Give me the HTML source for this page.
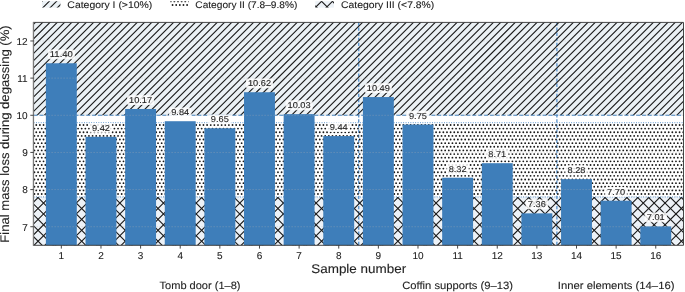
<!DOCTYPE html><html><head><meta charset="utf-8"><style>html,body{margin:0;padding:0;background:#fff;overflow:hidden}svg{display:block;will-change:transform;text-rendering:geometricPrecision}</style></head><body><svg width="685" height="292" viewBox="0 0 685 292"><defs><clipPath id="cr1"><rect x="33.6" y="22.4" width="649.9" height="92.88"/></clipPath><clipPath id="cr2"><rect x="33.6" y="122.7" width="649.9" height="74.3"/></clipPath><clipPath id="cr3"><rect x="33.6" y="197.01" width="649.9" height="48.29"/></clipPath><clipPath id="cl1"><rect x="42" y="1.2" width="18.4" height="6.4"/></clipPath><clipPath id="cl2"><rect x="170.3" y="1.2" width="18.4" height="6.4"/></clipPath><clipPath id="cl3"><rect x="315.3" y="1.2" width="18.7" height="6.4"/></clipPath></defs><rect x="33.6" y="22.4" width="649.9" height="92.88" fill="#ebf1f5"/><rect x="33.6" y="122.7" width="649.9" height="74.3" fill="#ffffff"/><rect x="33.6" y="197.01" width="649.9" height="48.29" fill="#edf2f7"/><line x1="358.75" x2="358.75" y1="22.4" y2="245.3" stroke="#3f82c4" stroke-opacity="0.95" stroke-width="1.2" stroke-dasharray="3.3 1.8"/><line x1="556.89" x2="556.89" y1="22.4" y2="245.3" stroke="#3f82c4" stroke-opacity="0.95" stroke-width="1.2" stroke-dasharray="3.3 1.8"/><g stroke="#1a1a1a" stroke-width="1.1" fill="none"><path clip-path="url(#cr1)" d="M-73.98 117.28L22.89 20.4M-66.71 117.28L30.16 20.4M-59.44 117.28L37.43 20.4M-52.18 117.28L44.7 20.4M-44.91 117.28L51.97 20.4M-37.64 117.28L59.24 20.4M-30.37 117.28L66.51 20.4M-23.1 117.28L73.78 20.4M-15.83 117.28L81.05 20.4M-8.56 117.28L88.32 20.4M-1.29 117.28L95.59 20.4M5.98 117.28L102.86 20.4M13.25 117.28L110.12 20.4M20.52 117.28L117.39 20.4M27.79 117.28L124.66 20.4M35.06 117.28L131.93 20.4M42.33 117.28L139.2 20.4M49.6 117.28L146.47 20.4M56.87 117.28L153.74 20.4M64.14 117.28L161.01 20.4M71.4 117.28L168.28 20.4M78.67 117.28L175.55 20.4M85.94 117.28L182.82 20.4M93.21 117.28L190.09 20.4M100.48 117.28L197.36 20.4M107.75 117.28L204.63 20.4M115.02 117.28L211.9 20.4M122.29 117.28L219.17 20.4M129.56 117.28L226.44 20.4M136.83 117.28L233.7 20.4M144.1 117.28L240.97 20.4M151.37 117.28L248.24 20.4M158.64 117.28L255.51 20.4M165.91 117.28L262.78 20.4M173.18 117.28L270.05 20.4M180.45 117.28L277.32 20.4M187.72 117.28L284.59 20.4M194.98 117.28L291.86 20.4M202.25 117.28L299.13 20.4M209.52 117.28L306.4 20.4M216.79 117.28L313.67 20.4M224.06 117.28L320.94 20.4M231.33 117.28L328.21 20.4M238.6 117.28L335.48 20.4M245.87 117.28L342.75 20.4M253.14 117.28L350.01 20.4M260.41 117.28L357.28 20.4M267.68 117.28L364.55 20.4M274.95 117.28L371.82 20.4M282.22 117.28L379.09 20.4M289.49 117.28L386.36 20.4M296.76 117.28L393.63 20.4M304.03 117.28L400.9 20.4M311.3 117.28L408.17 20.4M318.56 117.28L415.44 20.4M325.83 117.28L422.71 20.4M333.1 117.28L429.98 20.4M340.37 117.28L437.25 20.4M347.64 117.28L444.52 20.4M354.91 117.28L451.79 20.4M362.18 117.28L459.06 20.4M369.45 117.28L466.33 20.4M376.72 117.28L473.59 20.4M383.99 117.28L480.86 20.4M391.26 117.28L488.13 20.4M398.53 117.28L495.4 20.4M405.8 117.28L502.67 20.4M413.07 117.28L509.94 20.4M420.34 117.28L517.21 20.4M427.61 117.28L524.48 20.4M434.87 117.28L531.75 20.4M442.14 117.28L539.02 20.4M449.41 117.28L546.29 20.4M456.68 117.28L553.56 20.4M463.95 117.28L560.83 20.4M471.22 117.28L568.1 20.4M478.49 117.28L575.37 20.4M485.76 117.28L582.64 20.4M493.03 117.28L589.91 20.4M500.3 117.28L597.17 20.4M507.57 117.28L604.44 20.4M514.84 117.28L611.71 20.4M522.11 117.28L618.98 20.4M529.38 117.28L626.25 20.4M536.65 117.28L633.52 20.4M543.92 117.28L640.79 20.4M551.19 117.28L648.06 20.4M558.45 117.28L655.33 20.4M565.72 117.28L662.6 20.4M572.99 117.28L669.87 20.4M580.26 117.28L677.14 20.4M587.53 117.28L684.41 20.4M594.8 117.28L691.68 20.4M602.07 117.28L698.95 20.4M609.34 117.28L706.22 20.4M616.61 117.28L713.48 20.4M623.88 117.28L720.75 20.4M631.15 117.28L728.02 20.4M638.42 117.28L735.29 20.4M645.69 117.28L742.56 20.4M652.96 117.28L749.83 20.4M660.23 117.28L757.1 20.4M667.5 117.28L764.37 20.4M674.77 117.28L771.64 20.4M682.03 117.28L778.91 20.4"/><path clip-path="url(#cr3)" d="M-33.46 247.3L18.84 195.01M-22.56 247.3L29.74 195.01M-11.65 247.3L40.64 195.01M-0.75 247.3L51.55 195.01M10.16 247.3L62.45 195.01M21.06 247.3L73.35 195.01M31.96 247.3L84.26 195.01M42.87 247.3L95.16 195.01M53.77 247.3L106.07 195.01M64.68 247.3L116.97 195.01M75.58 247.3L127.87 195.01M86.48 247.3L138.78 195.01M97.39 247.3L149.68 195.01M108.29 247.3L160.59 195.01M119.2 247.3L171.49 195.01M130.1 247.3L182.4 195.01M141 247.3L193.3 195.01M151.91 247.3L204.2 195.01M162.81 247.3L215.11 195.01M173.72 247.3L226.01 195.01M184.62 247.3L236.92 195.01M195.52 247.3L247.82 195.01M206.43 247.3L258.72 195.01M217.33 247.3L269.63 195.01M228.24 247.3L280.53 195.01M239.14 247.3L291.44 195.01M250.04 247.3L302.34 195.01M260.95 247.3L313.24 195.01M271.85 247.3L324.15 195.01M282.76 247.3L335.05 195.01M293.66 247.3L345.96 195.01M304.56 247.3L356.86 195.01M315.47 247.3L367.76 195.01M326.37 247.3L378.67 195.01M337.28 247.3L389.57 195.01M348.18 247.3L400.48 195.01M359.08 247.3L411.38 195.01M369.99 247.3L422.28 195.01M380.89 247.3L433.19 195.01M391.8 247.3L444.09 195.01M402.7 247.3L455 195.01M413.6 247.3L465.9 195.01M424.51 247.3L476.8 195.01M435.41 247.3L487.71 195.01M446.32 247.3L498.61 195.01M457.22 247.3L509.51 195.01M468.12 247.3L520.42 195.01M479.03 247.3L531.32 195.01M489.93 247.3L542.23 195.01M500.84 247.3L553.13 195.01M511.74 247.3L564.04 195.01M522.64 247.3L574.94 195.01M533.55 247.3L585.84 195.01M544.45 247.3L596.75 195.01M555.36 247.3L607.65 195.01M566.26 247.3L618.56 195.01M577.16 247.3L629.46 195.01M588.07 247.3L640.36 195.01M598.97 247.3L651.27 195.01M609.88 247.3L662.17 195.01M620.78 247.3L673.08 195.01M631.68 247.3L683.98 195.01M642.59 247.3L694.88 195.01M653.49 247.3L705.79 195.01M664.4 247.3L716.69 195.01M675.3 247.3L727.6 195.01M686.2 247.3L738.5 195.01"/><path clip-path="url(#cr3)" d="M-29.95 195.01L22.35 247.3M-19.04 195.01L33.25 247.3M-8.14 195.01L44.16 247.3M2.77 195.01L55.06 247.3M13.67 195.01L65.96 247.3M24.57 195.01L76.87 247.3M35.48 195.01L87.77 247.3M46.38 195.01L98.68 247.3M57.28 195.01L109.58 247.3M68.19 195.01L120.48 247.3M79.09 195.01L131.39 247.3M90 195.01L142.29 247.3M100.9 195.01L153.2 247.3M111.8 195.01L164.1 247.3M122.71 195.01L175 247.3M133.61 195.01L185.91 247.3M144.52 195.01L196.81 247.3M155.42 195.01L207.72 247.3M166.33 195.01L218.62 247.3M177.23 195.01L229.52 247.3M188.13 195.01L240.43 247.3M199.04 195.01L251.33 247.3M209.94 195.01L262.24 247.3M220.85 195.01L273.14 247.3M231.75 195.01L284.04 247.3M242.65 195.01L294.95 247.3M253.56 195.01L305.85 247.3M264.46 195.01L316.76 247.3M275.37 195.01L327.66 247.3M286.27 195.01L338.56 247.3M297.17 195.01L349.47 247.3M308.08 195.01L360.37 247.3M318.98 195.01L371.28 247.3M329.88 195.01L382.18 247.3M340.79 195.01L393.08 247.3M351.69 195.01L403.99 247.3M362.6 195.01L414.89 247.3M373.5 195.01L425.8 247.3M384.4 195.01L436.7 247.3M395.31 195.01L447.6 247.3M406.21 195.01L458.51 247.3M417.12 195.01L469.41 247.3M428.02 195.01L480.32 247.3M438.93 195.01L491.22 247.3M449.83 195.01L502.12 247.3M460.73 195.01L513.03 247.3M471.64 195.01L523.93 247.3M482.54 195.01L534.84 247.3M493.45 195.01L545.74 247.3M504.35 195.01L556.64 247.3M515.25 195.01L567.55 247.3M526.16 195.01L578.45 247.3M537.06 195.01L589.36 247.3M547.97 195.01L600.26 247.3M558.87 195.01L611.16 247.3M569.77 195.01L622.07 247.3M580.68 195.01L632.97 247.3M591.58 195.01L643.88 247.3M602.49 195.01L654.78 247.3M613.39 195.01L665.68 247.3M624.29 195.01L676.59 247.3M635.2 195.01L687.49 247.3M646.1 195.01L698.4 247.3M657 195.01L709.3 247.3M667.91 195.01L720.2 247.3M678.81 195.01L731.11 247.3M689.72 195.01L742.01 247.3"/></g><path clip-path="url(#cr2)" stroke="#1a1a1a" stroke-width="1.84" stroke-linecap="round" d="M32.63 124.98h0M36.26 124.98h0M39.9 124.98h0M43.53 124.98h0M47.16 124.98h0M50.8 124.98h0M54.43 124.98h0M58.07 124.98h0M61.7 124.98h0M65.34 124.98h0M68.97 124.98h0M72.61 124.98h0M76.24 124.98h0M79.88 124.98h0M83.51 124.98h0M87.15 124.98h0M90.78 124.98h0M94.42 124.98h0M98.05 124.98h0M101.68 124.98h0M105.32 124.98h0M108.95 124.98h0M112.59 124.98h0M116.22 124.98h0M119.86 124.98h0M123.49 124.98h0M127.13 124.98h0M130.76 124.98h0M134.4 124.98h0M138.03 124.98h0M141.67 124.98h0M145.3 124.98h0M148.94 124.98h0M152.57 124.98h0M156.21 124.98h0M159.84 124.98h0M163.47 124.98h0M167.11 124.98h0M170.74 124.98h0M174.38 124.98h0M178.01 124.98h0M181.65 124.98h0M185.28 124.98h0M188.92 124.98h0M192.55 124.98h0M196.19 124.98h0M199.82 124.98h0M203.46 124.98h0M207.09 124.98h0M210.73 124.98h0M214.36 124.98h0M218 124.98h0M221.63 124.98h0M225.26 124.98h0M228.9 124.98h0M232.53 124.98h0M236.17 124.98h0M239.8 124.98h0M243.44 124.98h0M247.07 124.98h0M250.71 124.98h0M254.34 124.98h0M257.98 124.98h0M261.61 124.98h0M265.25 124.98h0M268.88 124.98h0M272.52 124.98h0M276.15 124.98h0M279.79 124.98h0M283.42 124.98h0M287.05 124.98h0M290.69 124.98h0M294.32 124.98h0M297.96 124.98h0M301.59 124.98h0M305.23 124.98h0M308.86 124.98h0M312.5 124.98h0M316.13 124.98h0M319.77 124.98h0M323.4 124.98h0M327.04 124.98h0M330.67 124.98h0M334.31 124.98h0M337.94 124.98h0M341.58 124.98h0M345.21 124.98h0M348.84 124.98h0M352.48 124.98h0M356.11 124.98h0M359.75 124.98h0M363.38 124.98h0M367.02 124.98h0M370.65 124.98h0M374.29 124.98h0M377.92 124.98h0M381.56 124.98h0M385.19 124.98h0M388.83 124.98h0M392.46 124.98h0M396.1 124.98h0M399.73 124.98h0M403.37 124.98h0M407 124.98h0M410.63 124.98h0M414.27 124.98h0M417.9 124.98h0M421.54 124.98h0M425.17 124.98h0M428.81 124.98h0M432.44 124.98h0M436.08 124.98h0M439.71 124.98h0M443.35 124.98h0M446.98 124.98h0M450.62 124.98h0M454.25 124.98h0M457.89 124.98h0M461.52 124.98h0M465.15 124.98h0M468.79 124.98h0M472.42 124.98h0M476.06 124.98h0M479.69 124.98h0M483.33 124.98h0M486.96 124.98h0M490.6 124.98h0M494.23 124.98h0M497.87 124.98h0M501.5 124.98h0M505.14 124.98h0M508.77 124.98h0M512.41 124.98h0M516.04 124.98h0M519.68 124.98h0M523.31 124.98h0M526.94 124.98h0M530.58 124.98h0M534.21 124.98h0M537.85 124.98h0M541.48 124.98h0M545.12 124.98h0M548.75 124.98h0M552.39 124.98h0M556.02 124.98h0M559.66 124.98h0M563.29 124.98h0M566.93 124.98h0M570.56 124.98h0M574.2 124.98h0M577.83 124.98h0M581.47 124.98h0M585.1 124.98h0M588.73 124.98h0M592.37 124.98h0M596 124.98h0M599.64 124.98h0M603.27 124.98h0M606.91 124.98h0M610.54 124.98h0M614.18 124.98h0M617.81 124.98h0M621.45 124.98h0M625.08 124.98h0M628.72 124.98h0M632.35 124.98h0M635.99 124.98h0M639.62 124.98h0M643.26 124.98h0M646.89 124.98h0M650.52 124.98h0M654.16 124.98h0M657.79 124.98h0M661.43 124.98h0M665.06 124.98h0M668.7 124.98h0M672.33 124.98h0M675.97 124.98h0M679.6 124.98h0M683.24 124.98h0M34.44 128.61h0M38.08 128.61h0M41.71 128.61h0M45.35 128.61h0M48.98 128.61h0M52.62 128.61h0M56.25 128.61h0M59.89 128.61h0M63.52 128.61h0M67.16 128.61h0M70.79 128.61h0M74.42 128.61h0M78.06 128.61h0M81.69 128.61h0M85.33 128.61h0M88.96 128.61h0M92.6 128.61h0M96.23 128.61h0M99.87 128.61h0M103.5 128.61h0M107.14 128.61h0M110.77 128.61h0M114.41 128.61h0M118.04 128.61h0M121.68 128.61h0M125.31 128.61h0M128.95 128.61h0M132.58 128.61h0M136.21 128.61h0M139.85 128.61h0M143.48 128.61h0M147.12 128.61h0M150.75 128.61h0M154.39 128.61h0M158.02 128.61h0M161.66 128.61h0M165.29 128.61h0M168.93 128.61h0M172.56 128.61h0M176.2 128.61h0M179.83 128.61h0M183.47 128.61h0M187.1 128.61h0M190.74 128.61h0M194.37 128.61h0M198 128.61h0M201.64 128.61h0M205.27 128.61h0M208.91 128.61h0M212.54 128.61h0M216.18 128.61h0M219.81 128.61h0M223.45 128.61h0M227.08 128.61h0M230.72 128.61h0M234.35 128.61h0M237.99 128.61h0M241.62 128.61h0M245.26 128.61h0M248.89 128.61h0M252.53 128.61h0M256.16 128.61h0M259.79 128.61h0M263.43 128.61h0M267.06 128.61h0M270.7 128.61h0M274.33 128.61h0M277.97 128.61h0M281.6 128.61h0M285.24 128.61h0M288.87 128.61h0M292.51 128.61h0M296.14 128.61h0M299.78 128.61h0M303.41 128.61h0M307.05 128.61h0M310.68 128.61h0M314.32 128.61h0M317.95 128.61h0M321.58 128.61h0M325.22 128.61h0M328.85 128.61h0M332.49 128.61h0M336.12 128.61h0M339.76 128.61h0M343.39 128.61h0M347.03 128.61h0M350.66 128.61h0M354.3 128.61h0M357.93 128.61h0M361.57 128.61h0M365.2 128.61h0M368.84 128.61h0M372.47 128.61h0M376.11 128.61h0M379.74 128.61h0M383.37 128.61h0M387.01 128.61h0M390.64 128.61h0M394.28 128.61h0M397.91 128.61h0M401.55 128.61h0M405.18 128.61h0M408.82 128.61h0M412.45 128.61h0M416.09 128.61h0M419.72 128.61h0M423.36 128.61h0M426.99 128.61h0M430.63 128.61h0M434.26 128.61h0M437.89 128.61h0M441.53 128.61h0M445.16 128.61h0M448.8 128.61h0M452.43 128.61h0M456.07 128.61h0M459.7 128.61h0M463.34 128.61h0M466.97 128.61h0M470.61 128.61h0M474.24 128.61h0M477.88 128.61h0M481.51 128.61h0M485.15 128.61h0M488.78 128.61h0M492.42 128.61h0M496.05 128.61h0M499.68 128.61h0M503.32 128.61h0M506.95 128.61h0M510.59 128.61h0M514.22 128.61h0M517.86 128.61h0M521.49 128.61h0M525.13 128.61h0M528.76 128.61h0M532.4 128.61h0M536.03 128.61h0M539.67 128.61h0M543.3 128.61h0M546.94 128.61h0M550.57 128.61h0M554.21 128.61h0M557.84 128.61h0M561.47 128.61h0M565.11 128.61h0M568.74 128.61h0M572.38 128.61h0M576.01 128.61h0M579.65 128.61h0M583.28 128.61h0M586.92 128.61h0M590.55 128.61h0M594.19 128.61h0M597.82 128.61h0M601.46 128.61h0M605.09 128.61h0M608.73 128.61h0M612.36 128.61h0M616 128.61h0M619.63 128.61h0M623.26 128.61h0M626.9 128.61h0M630.53 128.61h0M634.17 128.61h0M637.8 128.61h0M641.44 128.61h0M645.07 128.61h0M648.71 128.61h0M652.34 128.61h0M655.98 128.61h0M659.61 128.61h0M663.25 128.61h0M666.88 128.61h0M670.52 128.61h0M674.15 128.61h0M677.79 128.61h0M681.42 128.61h0M32.63 132.25h0M36.26 132.25h0M39.9 132.25h0M43.53 132.25h0M47.16 132.25h0M50.8 132.25h0M54.43 132.25h0M58.07 132.25h0M61.7 132.25h0M65.34 132.25h0M68.97 132.25h0M72.61 132.25h0M76.24 132.25h0M79.88 132.25h0M83.51 132.25h0M87.15 132.25h0M90.78 132.25h0M94.42 132.25h0M98.05 132.25h0M101.68 132.25h0M105.32 132.25h0M108.95 132.25h0M112.59 132.25h0M116.22 132.25h0M119.86 132.25h0M123.49 132.25h0M127.13 132.25h0M130.76 132.25h0M134.4 132.25h0M138.03 132.25h0M141.67 132.25h0M145.3 132.25h0M148.94 132.25h0M152.57 132.25h0M156.21 132.25h0M159.84 132.25h0M163.47 132.25h0M167.11 132.25h0M170.74 132.25h0M174.38 132.25h0M178.01 132.25h0M181.65 132.25h0M185.28 132.25h0M188.92 132.25h0M192.55 132.25h0M196.19 132.25h0M199.82 132.25h0M203.46 132.25h0M207.09 132.25h0M210.73 132.25h0M214.36 132.25h0M218 132.25h0M221.63 132.25h0M225.26 132.25h0M228.9 132.25h0M232.53 132.25h0M236.17 132.25h0M239.8 132.25h0M243.44 132.25h0M247.07 132.25h0M250.71 132.25h0M254.34 132.25h0M257.98 132.25h0M261.61 132.25h0M265.25 132.25h0M268.88 132.25h0M272.52 132.25h0M276.15 132.25h0M279.79 132.25h0M283.42 132.25h0M287.05 132.25h0M290.69 132.25h0M294.32 132.25h0M297.96 132.25h0M301.59 132.25h0M305.23 132.25h0M308.86 132.25h0M312.5 132.25h0M316.13 132.25h0M319.77 132.25h0M323.4 132.25h0M327.04 132.25h0M330.67 132.25h0M334.31 132.25h0M337.94 132.25h0M341.58 132.25h0M345.21 132.25h0M348.84 132.25h0M352.48 132.25h0M356.11 132.25h0M359.75 132.25h0M363.38 132.25h0M367.02 132.25h0M370.65 132.25h0M374.29 132.25h0M377.92 132.25h0M381.56 132.25h0M385.19 132.25h0M388.83 132.25h0M392.46 132.25h0M396.1 132.25h0M399.73 132.25h0M403.37 132.25h0M407 132.25h0M410.63 132.25h0M414.27 132.25h0M417.9 132.25h0M421.54 132.25h0M425.17 132.25h0M428.81 132.25h0M432.44 132.25h0M436.08 132.25h0M439.71 132.25h0M443.35 132.25h0M446.98 132.25h0M450.62 132.25h0M454.25 132.25h0M457.89 132.25h0M461.52 132.25h0M465.15 132.25h0M468.79 132.25h0M472.42 132.25h0M476.06 132.25h0M479.69 132.25h0M483.33 132.25h0M486.96 132.25h0M490.6 132.25h0M494.23 132.25h0M497.87 132.25h0M501.5 132.25h0M505.14 132.25h0M508.77 132.25h0M512.41 132.25h0M516.04 132.25h0M519.68 132.25h0M523.31 132.25h0M526.94 132.25h0M530.58 132.25h0M534.21 132.25h0M537.85 132.25h0M541.48 132.25h0M545.12 132.25h0M548.75 132.25h0M552.39 132.25h0M556.02 132.25h0M559.66 132.25h0M563.29 132.25h0M566.93 132.25h0M570.56 132.25h0M574.2 132.25h0M577.83 132.25h0M581.47 132.25h0M585.1 132.25h0M588.73 132.25h0M592.37 132.25h0M596 132.25h0M599.64 132.25h0M603.27 132.25h0M606.91 132.25h0M610.54 132.25h0M614.18 132.25h0M617.81 132.25h0M621.45 132.25h0M625.08 132.25h0M628.72 132.25h0M632.35 132.25h0M635.99 132.25h0M639.62 132.25h0M643.26 132.25h0M646.89 132.25h0M650.52 132.25h0M654.16 132.25h0M657.79 132.25h0M661.43 132.25h0M665.06 132.25h0M668.7 132.25h0M672.33 132.25h0M675.97 132.25h0M679.6 132.25h0M683.24 132.25h0M34.44 135.88h0M38.08 135.88h0M41.71 135.88h0M45.35 135.88h0M48.98 135.88h0M52.62 135.88h0M56.25 135.88h0M59.89 135.88h0M63.52 135.88h0M67.16 135.88h0M70.79 135.88h0M74.42 135.88h0M78.06 135.88h0M81.69 135.88h0M85.33 135.88h0M88.96 135.88h0M92.6 135.88h0M96.23 135.88h0M99.87 135.88h0M103.5 135.88h0M107.14 135.88h0M110.77 135.88h0M114.41 135.88h0M118.04 135.88h0M121.68 135.88h0M125.31 135.88h0M128.95 135.88h0M132.58 135.88h0M136.21 135.88h0M139.85 135.88h0M143.48 135.88h0M147.12 135.88h0M150.75 135.88h0M154.39 135.88h0M158.02 135.88h0M161.66 135.88h0M165.29 135.88h0M168.93 135.88h0M172.56 135.88h0M176.2 135.88h0M179.83 135.88h0M183.47 135.88h0M187.1 135.88h0M190.74 135.88h0M194.37 135.88h0M198 135.88h0M201.64 135.88h0M205.27 135.88h0M208.91 135.88h0M212.54 135.88h0M216.18 135.88h0M219.81 135.88h0M223.45 135.88h0M227.08 135.88h0M230.72 135.88h0M234.35 135.88h0M237.99 135.88h0M241.62 135.88h0M245.26 135.88h0M248.89 135.88h0M252.53 135.88h0M256.16 135.88h0M259.79 135.88h0M263.43 135.88h0M267.06 135.88h0M270.7 135.88h0M274.33 135.88h0M277.97 135.88h0M281.6 135.88h0M285.24 135.88h0M288.87 135.88h0M292.51 135.88h0M296.14 135.88h0M299.78 135.88h0M303.41 135.88h0M307.05 135.88h0M310.68 135.88h0M314.32 135.88h0M317.95 135.88h0M321.58 135.88h0M325.22 135.88h0M328.85 135.88h0M332.49 135.88h0M336.12 135.88h0M339.76 135.88h0M343.39 135.88h0M347.03 135.88h0M350.66 135.88h0M354.3 135.88h0M357.93 135.88h0M361.57 135.88h0M365.2 135.88h0M368.84 135.88h0M372.47 135.88h0M376.11 135.88h0M379.74 135.88h0M383.37 135.88h0M387.01 135.88h0M390.64 135.88h0M394.28 135.88h0M397.91 135.88h0M401.55 135.88h0M405.18 135.88h0M408.82 135.88h0M412.45 135.88h0M416.09 135.88h0M419.72 135.88h0M423.36 135.88h0M426.99 135.88h0M430.63 135.88h0M434.26 135.88h0M437.89 135.88h0M441.53 135.88h0M445.16 135.88h0M448.8 135.88h0M452.43 135.88h0M456.07 135.88h0M459.7 135.88h0M463.34 135.88h0M466.97 135.88h0M470.61 135.88h0M474.24 135.88h0M477.88 135.88h0M481.51 135.88h0M485.15 135.88h0M488.78 135.88h0M492.42 135.88h0M496.05 135.88h0M499.68 135.88h0M503.32 135.88h0M506.95 135.88h0M510.59 135.88h0M514.22 135.88h0M517.86 135.88h0M521.49 135.88h0M525.13 135.88h0M528.76 135.88h0M532.4 135.88h0M536.03 135.88h0M539.67 135.88h0M543.3 135.88h0M546.94 135.88h0M550.57 135.88h0M554.21 135.88h0M557.84 135.88h0M561.47 135.88h0M565.11 135.88h0M568.74 135.88h0M572.38 135.88h0M576.01 135.88h0M579.65 135.88h0M583.28 135.88h0M586.92 135.88h0M590.55 135.88h0M594.19 135.88h0M597.82 135.88h0M601.46 135.88h0M605.09 135.88h0M608.73 135.88h0M612.36 135.88h0M616 135.88h0M619.63 135.88h0M623.26 135.88h0M626.9 135.88h0M630.53 135.88h0M634.17 135.88h0M637.8 135.88h0M641.44 135.88h0M645.07 135.88h0M648.71 135.88h0M652.34 135.88h0M655.98 135.88h0M659.61 135.88h0M663.25 135.88h0M666.88 135.88h0M670.52 135.88h0M674.15 135.88h0M677.79 135.88h0M681.42 135.88h0M32.63 139.52h0M36.26 139.52h0M39.9 139.52h0M43.53 139.52h0M47.16 139.52h0M50.8 139.52h0M54.43 139.52h0M58.07 139.52h0M61.7 139.52h0M65.34 139.52h0M68.97 139.52h0M72.61 139.52h0M76.24 139.52h0M79.88 139.52h0M83.51 139.52h0M87.15 139.52h0M90.78 139.52h0M94.42 139.52h0M98.05 139.52h0M101.68 139.52h0M105.32 139.52h0M108.95 139.52h0M112.59 139.52h0M116.22 139.52h0M119.86 139.52h0M123.49 139.52h0M127.13 139.52h0M130.76 139.52h0M134.4 139.52h0M138.03 139.52h0M141.67 139.52h0M145.3 139.52h0M148.94 139.52h0M152.57 139.52h0M156.21 139.52h0M159.84 139.52h0M163.47 139.52h0M167.11 139.52h0M170.74 139.52h0M174.38 139.52h0M178.01 139.52h0M181.65 139.52h0M185.28 139.52h0M188.92 139.52h0M192.55 139.52h0M196.19 139.52h0M199.82 139.52h0M203.46 139.52h0M207.09 139.52h0M210.73 139.52h0M214.36 139.52h0M218 139.52h0M221.63 139.52h0M225.26 139.52h0M228.9 139.52h0M232.53 139.52h0M236.17 139.52h0M239.8 139.52h0M243.44 139.52h0M247.07 139.52h0M250.71 139.52h0M254.34 139.52h0M257.98 139.52h0M261.61 139.52h0M265.25 139.52h0M268.88 139.52h0M272.52 139.52h0M276.15 139.52h0M279.79 139.52h0M283.42 139.52h0M287.05 139.52h0M290.69 139.52h0M294.32 139.52h0M297.96 139.52h0M301.59 139.52h0M305.23 139.52h0M308.86 139.52h0M312.5 139.52h0M316.13 139.52h0M319.77 139.52h0M323.4 139.52h0M327.04 139.52h0M330.67 139.52h0M334.31 139.52h0M337.94 139.52h0M341.58 139.52h0M345.21 139.52h0M348.84 139.52h0M352.48 139.52h0M356.11 139.52h0M359.75 139.52h0M363.38 139.52h0M367.02 139.52h0M370.65 139.52h0M374.29 139.52h0M377.92 139.52h0M381.56 139.52h0M385.19 139.52h0M388.83 139.52h0M392.46 139.52h0M396.1 139.52h0M399.73 139.52h0M403.37 139.52h0M407 139.52h0M410.63 139.52h0M414.27 139.52h0M417.9 139.52h0M421.54 139.52h0M425.17 139.52h0M428.81 139.52h0M432.44 139.52h0M436.08 139.52h0M439.71 139.52h0M443.35 139.52h0M446.98 139.52h0M450.62 139.52h0M454.25 139.52h0M457.89 139.52h0M461.52 139.52h0M465.15 139.52h0M468.79 139.52h0M472.42 139.52h0M476.06 139.52h0M479.69 139.52h0M483.33 139.52h0M486.96 139.52h0M490.6 139.52h0M494.23 139.52h0M497.87 139.52h0M501.5 139.52h0M505.14 139.52h0M508.77 139.52h0M512.41 139.52h0M516.04 139.52h0M519.68 139.52h0M523.31 139.52h0M526.94 139.52h0M530.58 139.52h0M534.21 139.52h0M537.85 139.52h0M541.48 139.52h0M545.12 139.52h0M548.75 139.52h0M552.39 139.52h0M556.02 139.52h0M559.66 139.52h0M563.29 139.52h0M566.93 139.52h0M570.56 139.52h0M574.2 139.52h0M577.83 139.52h0M581.47 139.52h0M585.1 139.52h0M588.73 139.52h0M592.37 139.52h0M596 139.52h0M599.64 139.52h0M603.27 139.52h0M606.91 139.52h0M610.54 139.52h0M614.18 139.52h0M617.81 139.52h0M621.45 139.52h0M625.08 139.52h0M628.72 139.52h0M632.35 139.52h0M635.99 139.52h0M639.62 139.52h0M643.26 139.52h0M646.89 139.52h0M650.52 139.52h0M654.16 139.52h0M657.79 139.52h0M661.43 139.52h0M665.06 139.52h0M668.7 139.52h0M672.33 139.52h0M675.97 139.52h0M679.6 139.52h0M683.24 139.52h0M34.44 143.15h0M38.08 143.15h0M41.71 143.15h0M45.35 143.15h0M48.98 143.15h0M52.62 143.15h0M56.25 143.15h0M59.89 143.15h0M63.52 143.15h0M67.16 143.15h0M70.79 143.15h0M74.42 143.15h0M78.06 143.15h0M81.69 143.15h0M85.33 143.15h0M88.96 143.15h0M92.6 143.15h0M96.23 143.15h0M99.87 143.15h0M103.5 143.15h0M107.14 143.15h0M110.77 143.15h0M114.41 143.15h0M118.04 143.15h0M121.68 143.15h0M125.31 143.15h0M128.95 143.15h0M132.58 143.15h0M136.21 143.15h0M139.85 143.15h0M143.48 143.15h0M147.12 143.15h0M150.75 143.15h0M154.39 143.15h0M158.02 143.15h0M161.66 143.15h0M165.29 143.15h0M168.93 143.15h0M172.56 143.15h0M176.2 143.15h0M179.83 143.15h0M183.47 143.15h0M187.1 143.15h0M190.74 143.15h0M194.37 143.15h0M198 143.15h0M201.64 143.15h0M205.27 143.15h0M208.91 143.15h0M212.54 143.15h0M216.18 143.15h0M219.81 143.15h0M223.45 143.15h0M227.08 143.15h0M230.72 143.15h0M234.35 143.15h0M237.99 143.15h0M241.62 143.15h0M245.26 143.15h0M248.89 143.15h0M252.53 143.15h0M256.16 143.15h0M259.79 143.15h0M263.43 143.15h0M267.06 143.15h0M270.7 143.15h0M274.33 143.15h0M277.97 143.15h0M281.6 143.15h0M285.24 143.15h0M288.87 143.15h0M292.51 143.15h0M296.14 143.15h0M299.78 143.15h0M303.41 143.15h0M307.05 143.15h0M310.68 143.15h0M314.32 143.15h0M317.95 143.15h0M321.58 143.15h0M325.22 143.15h0M328.85 143.15h0M332.49 143.15h0M336.12 143.15h0M339.76 143.15h0M343.39 143.15h0M347.03 143.15h0M350.66 143.15h0M354.3 143.15h0M357.93 143.15h0M361.57 143.15h0M365.2 143.15h0M368.84 143.15h0M372.47 143.15h0M376.11 143.15h0M379.74 143.15h0M383.37 143.15h0M387.01 143.15h0M390.64 143.15h0M394.28 143.15h0M397.91 143.15h0M401.55 143.15h0M405.18 143.15h0M408.82 143.15h0M412.45 143.15h0M416.09 143.15h0M419.72 143.15h0M423.36 143.15h0M426.99 143.15h0M430.63 143.15h0M434.26 143.15h0M437.89 143.15h0M441.53 143.15h0M445.16 143.15h0M448.8 143.15h0M452.43 143.15h0M456.07 143.15h0M459.7 143.15h0M463.34 143.15h0M466.97 143.15h0M470.61 143.15h0M474.24 143.15h0M477.88 143.15h0M481.51 143.15h0M485.15 143.15h0M488.78 143.15h0M492.42 143.15h0M496.05 143.15h0M499.68 143.15h0M503.32 143.15h0M506.95 143.15h0M510.59 143.15h0M514.22 143.15h0M517.86 143.15h0M521.49 143.15h0M525.13 143.15h0M528.76 143.15h0M532.4 143.15h0M536.03 143.15h0M539.67 143.15h0M543.3 143.15h0M546.94 143.15h0M550.57 143.15h0M554.21 143.15h0M557.84 143.15h0M561.47 143.15h0M565.11 143.15h0M568.74 143.15h0M572.38 143.15h0M576.01 143.15h0M579.65 143.15h0M583.28 143.15h0M586.92 143.15h0M590.55 143.15h0M594.19 143.15h0M597.82 143.15h0M601.46 143.15h0M605.09 143.15h0M608.73 143.15h0M612.36 143.15h0M616 143.15h0M619.63 143.15h0M623.26 143.15h0M626.9 143.15h0M630.53 143.15h0M634.17 143.15h0M637.8 143.15h0M641.44 143.15h0M645.07 143.15h0M648.71 143.15h0M652.34 143.15h0M655.98 143.15h0M659.61 143.15h0M663.25 143.15h0M666.88 143.15h0M670.52 143.15h0M674.15 143.15h0M677.79 143.15h0M681.42 143.15h0M32.63 146.79h0M36.26 146.79h0M39.9 146.79h0M43.53 146.79h0M47.16 146.79h0M50.8 146.79h0M54.43 146.79h0M58.07 146.79h0M61.7 146.79h0M65.34 146.79h0M68.97 146.79h0M72.61 146.79h0M76.24 146.79h0M79.88 146.79h0M83.51 146.79h0M87.15 146.79h0M90.78 146.79h0M94.42 146.79h0M98.05 146.79h0M101.68 146.79h0M105.32 146.79h0M108.95 146.79h0M112.59 146.79h0M116.22 146.79h0M119.86 146.79h0M123.49 146.79h0M127.13 146.79h0M130.76 146.79h0M134.4 146.79h0M138.03 146.79h0M141.67 146.79h0M145.3 146.79h0M148.94 146.79h0M152.57 146.79h0M156.21 146.79h0M159.84 146.79h0M163.47 146.79h0M167.11 146.79h0M170.74 146.79h0M174.38 146.79h0M178.01 146.79h0M181.65 146.79h0M185.28 146.79h0M188.92 146.79h0M192.55 146.79h0M196.19 146.79h0M199.82 146.79h0M203.46 146.79h0M207.09 146.79h0M210.73 146.79h0M214.36 146.79h0M218 146.79h0M221.63 146.79h0M225.26 146.79h0M228.9 146.79h0M232.53 146.79h0M236.17 146.79h0M239.8 146.79h0M243.44 146.79h0M247.07 146.79h0M250.71 146.79h0M254.34 146.79h0M257.98 146.79h0M261.61 146.79h0M265.25 146.79h0M268.88 146.79h0M272.52 146.79h0M276.15 146.79h0M279.79 146.79h0M283.42 146.79h0M287.05 146.79h0M290.69 146.79h0M294.32 146.79h0M297.96 146.79h0M301.59 146.79h0M305.23 146.79h0M308.86 146.79h0M312.5 146.79h0M316.13 146.79h0M319.77 146.79h0M323.4 146.79h0M327.04 146.79h0M330.67 146.79h0M334.31 146.79h0M337.94 146.79h0M341.58 146.79h0M345.21 146.79h0M348.84 146.79h0M352.48 146.79h0M356.11 146.79h0M359.75 146.79h0M363.38 146.79h0M367.02 146.79h0M370.65 146.79h0M374.29 146.79h0M377.92 146.79h0M381.56 146.79h0M385.19 146.79h0M388.83 146.79h0M392.46 146.79h0M396.1 146.79h0M399.73 146.79h0M403.37 146.79h0M407 146.79h0M410.63 146.79h0M414.27 146.79h0M417.9 146.79h0M421.54 146.79h0M425.17 146.79h0M428.81 146.79h0M432.44 146.79h0M436.08 146.79h0M439.71 146.79h0M443.35 146.79h0M446.98 146.79h0M450.62 146.79h0M454.25 146.79h0M457.89 146.79h0M461.52 146.79h0M465.15 146.79h0M468.79 146.79h0M472.42 146.79h0M476.06 146.79h0M479.69 146.79h0M483.33 146.79h0M486.96 146.79h0M490.6 146.79h0M494.23 146.79h0M497.87 146.79h0M501.5 146.79h0M505.14 146.79h0M508.77 146.79h0M512.41 146.79h0M516.04 146.79h0M519.68 146.79h0M523.31 146.79h0M526.94 146.79h0M530.58 146.79h0M534.21 146.79h0M537.85 146.79h0M541.48 146.79h0M545.12 146.79h0M548.75 146.79h0M552.39 146.79h0M556.02 146.79h0M559.66 146.79h0M563.29 146.79h0M566.93 146.79h0M570.56 146.79h0M574.2 146.79h0M577.83 146.79h0M581.47 146.79h0M585.1 146.79h0M588.73 146.79h0M592.37 146.79h0M596 146.79h0M599.64 146.79h0M603.27 146.79h0M606.91 146.79h0M610.54 146.79h0M614.18 146.79h0M617.81 146.79h0M621.45 146.79h0M625.08 146.79h0M628.72 146.79h0M632.35 146.79h0M635.99 146.79h0M639.62 146.79h0M643.26 146.79h0M646.89 146.79h0M650.52 146.79h0M654.16 146.79h0M657.79 146.79h0M661.43 146.79h0M665.06 146.79h0M668.7 146.79h0M672.33 146.79h0M675.97 146.79h0M679.6 146.79h0M683.24 146.79h0M34.44 150.42h0M38.08 150.42h0M41.71 150.42h0M45.35 150.42h0M48.98 150.42h0M52.62 150.42h0M56.25 150.42h0M59.89 150.42h0M63.52 150.42h0M67.16 150.42h0M70.79 150.42h0M74.42 150.42h0M78.06 150.42h0M81.69 150.42h0M85.33 150.42h0M88.96 150.42h0M92.6 150.42h0M96.23 150.42h0M99.87 150.42h0M103.5 150.42h0M107.14 150.42h0M110.77 150.42h0M114.41 150.42h0M118.04 150.42h0M121.68 150.42h0M125.31 150.42h0M128.95 150.42h0M132.58 150.42h0M136.21 150.42h0M139.85 150.42h0M143.48 150.42h0M147.12 150.42h0M150.75 150.42h0M154.39 150.42h0M158.02 150.42h0M161.66 150.42h0M165.29 150.42h0M168.93 150.42h0M172.56 150.42h0M176.2 150.42h0M179.83 150.42h0M183.47 150.42h0M187.1 150.42h0M190.74 150.42h0M194.37 150.42h0M198 150.42h0M201.64 150.42h0M205.27 150.42h0M208.91 150.42h0M212.54 150.42h0M216.18 150.42h0M219.81 150.42h0M223.45 150.42h0M227.08 150.42h0M230.72 150.42h0M234.35 150.42h0M237.99 150.42h0M241.62 150.42h0M245.26 150.42h0M248.89 150.42h0M252.53 150.42h0M256.16 150.42h0M259.79 150.42h0M263.43 150.42h0M267.06 150.42h0M270.7 150.42h0M274.33 150.42h0M277.97 150.42h0M281.6 150.42h0M285.24 150.42h0M288.87 150.42h0M292.51 150.42h0M296.14 150.42h0M299.78 150.42h0M303.41 150.42h0M307.05 150.42h0M310.68 150.42h0M314.32 150.42h0M317.95 150.42h0M321.58 150.42h0M325.22 150.42h0M328.85 150.42h0M332.49 150.42h0M336.12 150.42h0M339.76 150.42h0M343.39 150.42h0M347.03 150.42h0M350.66 150.42h0M354.3 150.42h0M357.93 150.42h0M361.57 150.42h0M365.2 150.42h0M368.84 150.42h0M372.47 150.42h0M376.11 150.42h0M379.74 150.42h0M383.37 150.42h0M387.01 150.42h0M390.64 150.42h0M394.28 150.42h0M397.91 150.42h0M401.55 150.42h0M405.18 150.42h0M408.82 150.42h0M412.45 150.42h0M416.09 150.42h0M419.72 150.42h0M423.36 150.42h0M426.99 150.42h0M430.63 150.42h0M434.26 150.42h0M437.89 150.42h0M441.53 150.42h0M445.16 150.42h0M448.8 150.42h0M452.43 150.42h0M456.07 150.42h0M459.7 150.42h0M463.34 150.42h0M466.97 150.42h0M470.61 150.42h0M474.24 150.42h0M477.88 150.42h0M481.51 150.42h0M485.15 150.42h0M488.78 150.42h0M492.42 150.42h0M496.05 150.42h0M499.68 150.42h0M503.32 150.42h0M506.95 150.42h0M510.59 150.42h0M514.22 150.42h0M517.86 150.42h0M521.49 150.42h0M525.13 150.42h0M528.76 150.42h0M532.4 150.42h0M536.03 150.42h0M539.67 150.42h0M543.3 150.42h0M546.94 150.42h0M550.57 150.42h0M554.21 150.42h0M557.84 150.42h0M561.47 150.42h0M565.11 150.42h0M568.74 150.42h0M572.38 150.42h0M576.01 150.42h0M579.65 150.42h0M583.28 150.42h0M586.92 150.42h0M590.55 150.42h0M594.19 150.42h0M597.82 150.42h0M601.46 150.42h0M605.09 150.42h0M608.73 150.42h0M612.36 150.42h0M616 150.42h0M619.63 150.42h0M623.26 150.42h0M626.9 150.42h0M630.53 150.42h0M634.17 150.42h0M637.8 150.42h0M641.44 150.42h0M645.07 150.42h0M648.71 150.42h0M652.34 150.42h0M655.98 150.42h0M659.61 150.42h0M663.25 150.42h0M666.88 150.42h0M670.52 150.42h0M674.15 150.42h0M677.79 150.42h0M681.42 150.42h0M32.63 154.06h0M36.26 154.06h0M39.9 154.06h0M43.53 154.06h0M47.16 154.06h0M50.8 154.06h0M54.43 154.06h0M58.07 154.06h0M61.7 154.06h0M65.34 154.06h0M68.97 154.06h0M72.61 154.06h0M76.24 154.06h0M79.88 154.06h0M83.51 154.06h0M87.15 154.06h0M90.78 154.06h0M94.42 154.06h0M98.05 154.06h0M101.68 154.06h0M105.32 154.06h0M108.95 154.06h0M112.59 154.06h0M116.22 154.06h0M119.86 154.06h0M123.49 154.06h0M127.13 154.06h0M130.76 154.06h0M134.4 154.06h0M138.03 154.06h0M141.67 154.06h0M145.3 154.06h0M148.94 154.06h0M152.57 154.06h0M156.21 154.06h0M159.84 154.06h0M163.47 154.06h0M167.11 154.06h0M170.74 154.06h0M174.38 154.06h0M178.01 154.06h0M181.65 154.06h0M185.28 154.06h0M188.92 154.06h0M192.55 154.06h0M196.19 154.06h0M199.82 154.06h0M203.46 154.06h0M207.09 154.06h0M210.73 154.06h0M214.36 154.06h0M218 154.06h0M221.63 154.06h0M225.26 154.06h0M228.9 154.06h0M232.53 154.06h0M236.17 154.06h0M239.8 154.06h0M243.44 154.06h0M247.07 154.06h0M250.71 154.06h0M254.34 154.06h0M257.98 154.06h0M261.61 154.06h0M265.25 154.06h0M268.88 154.06h0M272.52 154.06h0M276.15 154.06h0M279.79 154.06h0M283.42 154.06h0M287.05 154.06h0M290.69 154.06h0M294.32 154.06h0M297.96 154.06h0M301.59 154.06h0M305.23 154.06h0M308.86 154.06h0M312.5 154.06h0M316.13 154.06h0M319.77 154.06h0M323.4 154.06h0M327.04 154.06h0M330.67 154.06h0M334.31 154.06h0M337.94 154.06h0M341.58 154.06h0M345.21 154.06h0M348.84 154.06h0M352.48 154.06h0M356.11 154.06h0M359.75 154.06h0M363.38 154.06h0M367.02 154.06h0M370.65 154.06h0M374.29 154.06h0M377.92 154.06h0M381.56 154.06h0M385.19 154.06h0M388.83 154.06h0M392.46 154.06h0M396.1 154.06h0M399.73 154.06h0M403.37 154.06h0M407 154.06h0M410.63 154.06h0M414.27 154.06h0M417.9 154.06h0M421.54 154.06h0M425.17 154.06h0M428.81 154.06h0M432.44 154.06h0M436.08 154.06h0M439.71 154.06h0M443.35 154.06h0M446.98 154.06h0M450.62 154.06h0M454.25 154.06h0M457.89 154.06h0M461.52 154.06h0M465.15 154.06h0M468.79 154.06h0M472.42 154.06h0M476.06 154.06h0M479.69 154.06h0M483.33 154.06h0M486.96 154.06h0M490.6 154.06h0M494.23 154.06h0M497.87 154.06h0M501.5 154.06h0M505.14 154.06h0M508.77 154.06h0M512.41 154.06h0M516.04 154.06h0M519.68 154.06h0M523.31 154.06h0M526.94 154.06h0M530.58 154.06h0M534.21 154.06h0M537.85 154.06h0M541.48 154.06h0M545.12 154.06h0M548.75 154.06h0M552.39 154.06h0M556.02 154.06h0M559.66 154.06h0M563.29 154.06h0M566.93 154.06h0M570.56 154.06h0M574.2 154.06h0M577.83 154.06h0M581.47 154.06h0M585.1 154.06h0M588.73 154.06h0M592.37 154.06h0M596 154.06h0M599.64 154.06h0M603.27 154.06h0M606.91 154.06h0M610.54 154.06h0M614.18 154.06h0M617.81 154.06h0M621.45 154.06h0M625.08 154.06h0M628.72 154.06h0M632.35 154.06h0M635.99 154.06h0M639.62 154.06h0M643.26 154.06h0M646.89 154.06h0M650.52 154.06h0M654.16 154.06h0M657.79 154.06h0M661.43 154.06h0M665.06 154.06h0M668.7 154.06h0M672.33 154.06h0M675.97 154.06h0M679.6 154.06h0M683.24 154.06h0M34.44 157.69h0M38.08 157.69h0M41.71 157.69h0M45.35 157.69h0M48.98 157.69h0M52.62 157.69h0M56.25 157.69h0M59.89 157.69h0M63.52 157.69h0M67.16 157.69h0M70.79 157.69h0M74.42 157.69h0M78.06 157.69h0M81.69 157.69h0M85.33 157.69h0M88.96 157.69h0M92.6 157.69h0M96.23 157.69h0M99.87 157.69h0M103.5 157.69h0M107.14 157.69h0M110.77 157.69h0M114.41 157.69h0M118.04 157.69h0M121.68 157.69h0M125.31 157.69h0M128.95 157.69h0M132.58 157.69h0M136.21 157.69h0M139.85 157.69h0M143.48 157.69h0M147.12 157.69h0M150.75 157.69h0M154.39 157.69h0M158.02 157.69h0M161.66 157.69h0M165.29 157.69h0M168.93 157.69h0M172.56 157.69h0M176.2 157.69h0M179.83 157.69h0M183.47 157.69h0M187.1 157.69h0M190.74 157.69h0M194.37 157.69h0M198 157.69h0M201.64 157.69h0M205.27 157.69h0M208.91 157.69h0M212.54 157.69h0M216.18 157.69h0M219.81 157.69h0M223.45 157.69h0M227.08 157.69h0M230.72 157.69h0M234.35 157.69h0M237.99 157.69h0M241.62 157.69h0M245.26 157.69h0M248.89 157.69h0M252.53 157.69h0M256.16 157.69h0M259.79 157.69h0M263.43 157.69h0M267.06 157.69h0M270.7 157.69h0M274.33 157.69h0M277.97 157.69h0M281.6 157.69h0M285.24 157.69h0M288.87 157.69h0M292.51 157.69h0M296.14 157.69h0M299.78 157.69h0M303.41 157.69h0M307.05 157.69h0M310.68 157.69h0M314.32 157.69h0M317.95 157.69h0M321.58 157.69h0M325.22 157.69h0M328.85 157.69h0M332.49 157.69h0M336.12 157.69h0M339.76 157.69h0M343.39 157.69h0M347.03 157.69h0M350.66 157.69h0M354.3 157.69h0M357.93 157.69h0M361.57 157.69h0M365.2 157.69h0M368.84 157.69h0M372.47 157.69h0M376.11 157.69h0M379.74 157.69h0M383.37 157.69h0M387.01 157.69h0M390.64 157.69h0M394.28 157.69h0M397.91 157.69h0M401.55 157.69h0M405.18 157.69h0M408.82 157.69h0M412.45 157.69h0M416.09 157.69h0M419.72 157.69h0M423.36 157.69h0M426.99 157.69h0M430.63 157.69h0M434.26 157.69h0M437.89 157.69h0M441.53 157.69h0M445.16 157.69h0M448.8 157.69h0M452.43 157.69h0M456.07 157.69h0M459.7 157.69h0M463.34 157.69h0M466.97 157.69h0M470.61 157.69h0M474.24 157.69h0M477.88 157.69h0M481.51 157.69h0M485.15 157.69h0M488.78 157.69h0M492.42 157.69h0M496.05 157.69h0M499.68 157.69h0M503.32 157.69h0M506.95 157.69h0M510.59 157.69h0M514.22 157.69h0M517.86 157.69h0M521.49 157.69h0M525.13 157.69h0M528.76 157.69h0M532.4 157.69h0M536.03 157.69h0M539.67 157.69h0M543.3 157.69h0M546.94 157.69h0M550.57 157.69h0M554.21 157.69h0M557.84 157.69h0M561.47 157.69h0M565.11 157.69h0M568.74 157.69h0M572.38 157.69h0M576.01 157.69h0M579.65 157.69h0M583.28 157.69h0M586.92 157.69h0M590.55 157.69h0M594.19 157.69h0M597.82 157.69h0M601.46 157.69h0M605.09 157.69h0M608.73 157.69h0M612.36 157.69h0M616 157.69h0M619.63 157.69h0M623.26 157.69h0M626.9 157.69h0M630.53 157.69h0M634.17 157.69h0M637.8 157.69h0M641.44 157.69h0M645.07 157.69h0M648.71 157.69h0M652.34 157.69h0M655.98 157.69h0M659.61 157.69h0M663.25 157.69h0M666.88 157.69h0M670.52 157.69h0M674.15 157.69h0M677.79 157.69h0M681.42 157.69h0M32.63 161.33h0M36.26 161.33h0M39.9 161.33h0M43.53 161.33h0M47.16 161.33h0M50.8 161.33h0M54.43 161.33h0M58.07 161.33h0M61.7 161.33h0M65.34 161.33h0M68.97 161.33h0M72.61 161.33h0M76.24 161.33h0M79.88 161.33h0M83.51 161.33h0M87.15 161.33h0M90.78 161.33h0M94.42 161.33h0M98.05 161.33h0M101.68 161.33h0M105.32 161.33h0M108.95 161.33h0M112.59 161.33h0M116.22 161.33h0M119.86 161.33h0M123.49 161.33h0M127.13 161.33h0M130.76 161.33h0M134.4 161.33h0M138.03 161.33h0M141.67 161.33h0M145.3 161.33h0M148.94 161.33h0M152.57 161.33h0M156.21 161.33h0M159.84 161.33h0M163.47 161.33h0M167.11 161.33h0M170.74 161.33h0M174.38 161.33h0M178.01 161.33h0M181.65 161.33h0M185.28 161.33h0M188.92 161.33h0M192.55 161.33h0M196.19 161.33h0M199.82 161.33h0M203.46 161.33h0M207.09 161.33h0M210.73 161.33h0M214.36 161.33h0M218 161.33h0M221.63 161.33h0M225.26 161.33h0M228.9 161.33h0M232.53 161.33h0M236.17 161.33h0M239.8 161.33h0M243.44 161.33h0M247.07 161.33h0M250.71 161.33h0M254.34 161.33h0M257.98 161.33h0M261.61 161.33h0M265.25 161.33h0M268.88 161.33h0M272.52 161.33h0M276.15 161.33h0M279.79 161.33h0M283.42 161.33h0M287.05 161.33h0M290.69 161.33h0M294.32 161.33h0M297.96 161.33h0M301.59 161.33h0M305.23 161.33h0M308.86 161.33h0M312.5 161.33h0M316.13 161.33h0M319.77 161.33h0M323.4 161.33h0M327.04 161.33h0M330.67 161.33h0M334.31 161.33h0M337.94 161.33h0M341.58 161.33h0M345.21 161.33h0M348.84 161.33h0M352.48 161.33h0M356.11 161.33h0M359.75 161.33h0M363.38 161.33h0M367.02 161.33h0M370.65 161.33h0M374.29 161.33h0M377.92 161.33h0M381.56 161.33h0M385.19 161.33h0M388.83 161.33h0M392.46 161.33h0M396.1 161.33h0M399.73 161.33h0M403.37 161.33h0M407 161.33h0M410.63 161.33h0M414.27 161.33h0M417.9 161.33h0M421.54 161.33h0M425.17 161.33h0M428.81 161.33h0M432.44 161.33h0M436.08 161.33h0M439.71 161.33h0M443.35 161.33h0M446.98 161.33h0M450.62 161.33h0M454.25 161.33h0M457.89 161.33h0M461.52 161.33h0M465.15 161.33h0M468.79 161.33h0M472.42 161.33h0M476.06 161.33h0M479.69 161.33h0M483.33 161.33h0M486.96 161.33h0M490.6 161.33h0M494.23 161.33h0M497.87 161.33h0M501.5 161.33h0M505.14 161.33h0M508.77 161.33h0M512.41 161.33h0M516.04 161.33h0M519.68 161.33h0M523.31 161.33h0M526.94 161.33h0M530.58 161.33h0M534.21 161.33h0M537.85 161.33h0M541.48 161.33h0M545.12 161.33h0M548.75 161.33h0M552.39 161.33h0M556.02 161.33h0M559.66 161.33h0M563.29 161.33h0M566.93 161.33h0M570.56 161.33h0M574.2 161.33h0M577.83 161.33h0M581.47 161.33h0M585.1 161.33h0M588.73 161.33h0M592.37 161.33h0M596 161.33h0M599.64 161.33h0M603.27 161.33h0M606.91 161.33h0M610.54 161.33h0M614.18 161.33h0M617.81 161.33h0M621.45 161.33h0M625.08 161.33h0M628.72 161.33h0M632.35 161.33h0M635.99 161.33h0M639.62 161.33h0M643.26 161.33h0M646.89 161.33h0M650.52 161.33h0M654.16 161.33h0M657.79 161.33h0M661.43 161.33h0M665.06 161.33h0M668.7 161.33h0M672.33 161.33h0M675.97 161.33h0M679.6 161.33h0M683.24 161.33h0M34.44 164.96h0M38.08 164.96h0M41.71 164.96h0M45.35 164.96h0M48.98 164.96h0M52.62 164.96h0M56.25 164.96h0M59.89 164.96h0M63.52 164.96h0M67.16 164.96h0M70.79 164.96h0M74.42 164.96h0M78.06 164.96h0M81.69 164.96h0M85.33 164.96h0M88.96 164.96h0M92.6 164.96h0M96.23 164.96h0M99.87 164.96h0M103.5 164.96h0M107.14 164.96h0M110.77 164.96h0M114.41 164.96h0M118.04 164.96h0M121.68 164.96h0M125.31 164.96h0M128.95 164.96h0M132.58 164.96h0M136.21 164.96h0M139.85 164.96h0M143.48 164.96h0M147.12 164.96h0M150.75 164.96h0M154.39 164.96h0M158.02 164.96h0M161.66 164.96h0M165.29 164.96h0M168.93 164.96h0M172.56 164.96h0M176.2 164.96h0M179.83 164.96h0M183.47 164.96h0M187.1 164.96h0M190.74 164.96h0M194.37 164.96h0M198 164.96h0M201.64 164.96h0M205.27 164.96h0M208.91 164.96h0M212.54 164.96h0M216.18 164.96h0M219.81 164.96h0M223.45 164.96h0M227.08 164.96h0M230.72 164.96h0M234.35 164.96h0M237.99 164.96h0M241.62 164.96h0M245.26 164.96h0M248.89 164.96h0M252.53 164.96h0M256.16 164.96h0M259.79 164.96h0M263.43 164.96h0M267.06 164.96h0M270.7 164.96h0M274.33 164.96h0M277.97 164.96h0M281.6 164.96h0M285.24 164.96h0M288.87 164.96h0M292.51 164.96h0M296.14 164.96h0M299.78 164.96h0M303.41 164.96h0M307.05 164.96h0M310.68 164.96h0M314.32 164.96h0M317.95 164.96h0M321.58 164.96h0M325.22 164.96h0M328.85 164.96h0M332.49 164.96h0M336.12 164.96h0M339.76 164.96h0M343.39 164.96h0M347.03 164.96h0M350.66 164.96h0M354.3 164.96h0M357.93 164.96h0M361.57 164.96h0M365.2 164.96h0M368.84 164.96h0M372.47 164.96h0M376.11 164.96h0M379.74 164.96h0M383.37 164.96h0M387.01 164.96h0M390.64 164.96h0M394.28 164.96h0M397.91 164.96h0M401.55 164.96h0M405.18 164.96h0M408.82 164.96h0M412.45 164.96h0M416.09 164.96h0M419.72 164.96h0M423.36 164.96h0M426.99 164.96h0M430.63 164.96h0M434.26 164.96h0M437.89 164.96h0M441.53 164.96h0M445.16 164.96h0M448.8 164.96h0M452.43 164.96h0M456.07 164.96h0M459.7 164.96h0M463.34 164.96h0M466.97 164.96h0M470.61 164.96h0M474.24 164.96h0M477.88 164.96h0M481.51 164.96h0M485.15 164.96h0M488.78 164.96h0M492.42 164.96h0M496.05 164.96h0M499.68 164.96h0M503.32 164.96h0M506.95 164.96h0M510.59 164.96h0M514.22 164.96h0M517.86 164.96h0M521.49 164.96h0M525.13 164.96h0M528.76 164.96h0M532.4 164.96h0M536.03 164.96h0M539.67 164.96h0M543.3 164.96h0M546.94 164.96h0M550.57 164.96h0M554.21 164.96h0M557.84 164.96h0M561.47 164.96h0M565.11 164.96h0M568.74 164.96h0M572.38 164.96h0M576.01 164.96h0M579.65 164.96h0M583.28 164.96h0M586.92 164.96h0M590.55 164.96h0M594.19 164.96h0M597.82 164.96h0M601.46 164.96h0M605.09 164.96h0M608.73 164.96h0M612.36 164.96h0M616 164.96h0M619.63 164.96h0M623.26 164.96h0M626.9 164.96h0M630.53 164.96h0M634.17 164.96h0M637.8 164.96h0M641.44 164.96h0M645.07 164.96h0M648.71 164.96h0M652.34 164.96h0M655.98 164.96h0M659.61 164.96h0M663.25 164.96h0M666.88 164.96h0M670.52 164.96h0M674.15 164.96h0M677.79 164.96h0M681.42 164.96h0M32.63 168.6h0M36.26 168.6h0M39.9 168.6h0M43.53 168.6h0M47.16 168.6h0M50.8 168.6h0M54.43 168.6h0M58.07 168.6h0M61.7 168.6h0M65.34 168.6h0M68.97 168.6h0M72.61 168.6h0M76.24 168.6h0M79.88 168.6h0M83.51 168.6h0M87.15 168.6h0M90.78 168.6h0M94.42 168.6h0M98.05 168.6h0M101.68 168.6h0M105.32 168.6h0M108.95 168.6h0M112.59 168.6h0M116.22 168.6h0M119.86 168.6h0M123.49 168.6h0M127.13 168.6h0M130.76 168.6h0M134.4 168.6h0M138.03 168.6h0M141.67 168.6h0M145.3 168.6h0M148.94 168.6h0M152.57 168.6h0M156.21 168.6h0M159.84 168.6h0M163.47 168.6h0M167.11 168.6h0M170.74 168.6h0M174.38 168.6h0M178.01 168.6h0M181.65 168.6h0M185.28 168.6h0M188.92 168.6h0M192.55 168.6h0M196.19 168.6h0M199.82 168.6h0M203.46 168.6h0M207.09 168.6h0M210.73 168.6h0M214.36 168.6h0M218 168.6h0M221.63 168.6h0M225.26 168.6h0M228.9 168.6h0M232.53 168.6h0M236.17 168.6h0M239.8 168.6h0M243.44 168.6h0M247.07 168.6h0M250.71 168.6h0M254.34 168.6h0M257.98 168.6h0M261.61 168.6h0M265.25 168.6h0M268.88 168.6h0M272.52 168.6h0M276.15 168.6h0M279.79 168.6h0M283.42 168.6h0M287.05 168.6h0M290.69 168.6h0M294.32 168.6h0M297.96 168.6h0M301.59 168.6h0M305.23 168.6h0M308.86 168.6h0M312.5 168.6h0M316.13 168.6h0M319.77 168.6h0M323.4 168.6h0M327.04 168.6h0M330.67 168.6h0M334.31 168.6h0M337.94 168.6h0M341.58 168.6h0M345.21 168.6h0M348.84 168.6h0M352.48 168.6h0M356.11 168.6h0M359.75 168.6h0M363.38 168.6h0M367.02 168.6h0M370.65 168.6h0M374.29 168.6h0M377.92 168.6h0M381.56 168.6h0M385.19 168.6h0M388.83 168.6h0M392.46 168.6h0M396.1 168.6h0M399.73 168.6h0M403.37 168.6h0M407 168.6h0M410.63 168.6h0M414.27 168.6h0M417.9 168.6h0M421.54 168.6h0M425.17 168.6h0M428.81 168.6h0M432.44 168.6h0M436.08 168.6h0M439.71 168.6h0M443.35 168.6h0M446.98 168.6h0M450.62 168.6h0M454.25 168.6h0M457.89 168.6h0M461.52 168.6h0M465.15 168.6h0M468.79 168.6h0M472.42 168.6h0M476.06 168.6h0M479.69 168.6h0M483.33 168.6h0M486.96 168.6h0M490.6 168.6h0M494.23 168.6h0M497.87 168.6h0M501.5 168.6h0M505.14 168.6h0M508.77 168.6h0M512.41 168.6h0M516.04 168.6h0M519.68 168.6h0M523.31 168.6h0M526.94 168.6h0M530.58 168.6h0M534.21 168.6h0M537.85 168.6h0M541.48 168.6h0M545.12 168.6h0M548.75 168.6h0M552.39 168.6h0M556.02 168.6h0M559.66 168.6h0M563.29 168.6h0M566.93 168.6h0M570.56 168.6h0M574.2 168.6h0M577.83 168.6h0M581.47 168.6h0M585.1 168.6h0M588.73 168.6h0M592.37 168.6h0M596 168.6h0M599.64 168.6h0M603.27 168.6h0M606.91 168.6h0M610.54 168.6h0M614.18 168.6h0M617.81 168.6h0M621.45 168.6h0M625.08 168.6h0M628.72 168.6h0M632.35 168.6h0M635.99 168.6h0M639.62 168.6h0M643.26 168.6h0M646.89 168.6h0M650.52 168.6h0M654.16 168.6h0M657.79 168.6h0M661.43 168.6h0M665.06 168.6h0M668.7 168.6h0M672.33 168.6h0M675.97 168.6h0M679.6 168.6h0M683.24 168.6h0M34.44 172.23h0M38.08 172.23h0M41.71 172.23h0M45.35 172.23h0M48.98 172.23h0M52.62 172.23h0M56.25 172.23h0M59.89 172.23h0M63.52 172.23h0M67.16 172.23h0M70.79 172.23h0M74.42 172.23h0M78.06 172.23h0M81.69 172.23h0M85.33 172.23h0M88.96 172.23h0M92.6 172.23h0M96.23 172.23h0M99.87 172.23h0M103.5 172.23h0M107.14 172.23h0M110.77 172.23h0M114.41 172.23h0M118.04 172.23h0M121.68 172.23h0M125.31 172.23h0M128.95 172.23h0M132.58 172.23h0M136.21 172.23h0M139.85 172.23h0M143.48 172.23h0M147.12 172.23h0M150.75 172.23h0M154.39 172.23h0M158.02 172.23h0M161.66 172.23h0M165.29 172.23h0M168.93 172.23h0M172.56 172.23h0M176.2 172.23h0M179.83 172.23h0M183.47 172.23h0M187.1 172.23h0M190.74 172.23h0M194.37 172.23h0M198 172.23h0M201.64 172.23h0M205.27 172.23h0M208.91 172.23h0M212.54 172.23h0M216.18 172.23h0M219.81 172.23h0M223.45 172.23h0M227.08 172.23h0M230.72 172.23h0M234.35 172.23h0M237.99 172.23h0M241.62 172.23h0M245.26 172.23h0M248.89 172.23h0M252.53 172.23h0M256.16 172.23h0M259.79 172.23h0M263.43 172.23h0M267.06 172.23h0M270.7 172.23h0M274.33 172.23h0M277.97 172.23h0M281.6 172.23h0M285.24 172.23h0M288.87 172.23h0M292.51 172.23h0M296.14 172.23h0M299.78 172.23h0M303.41 172.23h0M307.05 172.23h0M310.68 172.23h0M314.32 172.23h0M317.95 172.23h0M321.58 172.23h0M325.22 172.23h0M328.85 172.23h0M332.49 172.23h0M336.12 172.23h0M339.76 172.23h0M343.39 172.23h0M347.03 172.23h0M350.66 172.23h0M354.3 172.23h0M357.93 172.23h0M361.57 172.23h0M365.2 172.23h0M368.84 172.23h0M372.47 172.23h0M376.11 172.23h0M379.74 172.23h0M383.37 172.23h0M387.01 172.23h0M390.64 172.23h0M394.28 172.23h0M397.91 172.23h0M401.55 172.23h0M405.18 172.23h0M408.82 172.23h0M412.45 172.23h0M416.09 172.23h0M419.72 172.23h0M423.36 172.23h0M426.99 172.23h0M430.63 172.23h0M434.26 172.23h0M437.89 172.23h0M441.53 172.23h0M445.16 172.23h0M448.8 172.23h0M452.43 172.23h0M456.07 172.23h0M459.7 172.23h0M463.34 172.23h0M466.97 172.23h0M470.61 172.23h0M474.24 172.23h0M477.88 172.23h0M481.51 172.23h0M485.15 172.23h0M488.78 172.23h0M492.42 172.23h0M496.05 172.23h0M499.68 172.23h0M503.32 172.23h0M506.95 172.23h0M510.59 172.23h0M514.22 172.23h0M517.86 172.23h0M521.49 172.23h0M525.13 172.23h0M528.76 172.23h0M532.4 172.23h0M536.03 172.23h0M539.67 172.23h0M543.3 172.23h0M546.94 172.23h0M550.57 172.23h0M554.21 172.23h0M557.84 172.23h0M561.47 172.23h0M565.11 172.23h0M568.74 172.23h0M572.38 172.23h0M576.01 172.23h0M579.65 172.23h0M583.28 172.23h0M586.92 172.23h0M590.55 172.23h0M594.19 172.23h0M597.82 172.23h0M601.46 172.23h0M605.09 172.23h0M608.73 172.23h0M612.36 172.23h0M616 172.23h0M619.63 172.23h0M623.26 172.23h0M626.9 172.23h0M630.53 172.23h0M634.17 172.23h0M637.8 172.23h0M641.44 172.23h0M645.07 172.23h0M648.71 172.23h0M652.34 172.23h0M655.98 172.23h0M659.61 172.23h0M663.25 172.23h0M666.88 172.23h0M670.52 172.23h0M674.15 172.23h0M677.79 172.23h0M681.42 172.23h0M32.63 175.87h0M36.26 175.87h0M39.9 175.87h0M43.53 175.87h0M47.16 175.87h0M50.8 175.87h0M54.43 175.87h0M58.07 175.87h0M61.7 175.87h0M65.34 175.87h0M68.97 175.87h0M72.61 175.87h0M76.24 175.87h0M79.88 175.87h0M83.51 175.87h0M87.15 175.87h0M90.78 175.87h0M94.42 175.87h0M98.05 175.87h0M101.68 175.87h0M105.32 175.87h0M108.95 175.87h0M112.59 175.87h0M116.22 175.87h0M119.86 175.87h0M123.49 175.87h0M127.13 175.87h0M130.76 175.87h0M134.4 175.87h0M138.03 175.87h0M141.67 175.87h0M145.3 175.87h0M148.94 175.87h0M152.57 175.87h0M156.21 175.87h0M159.84 175.87h0M163.47 175.87h0M167.11 175.87h0M170.74 175.87h0M174.38 175.87h0M178.01 175.87h0M181.65 175.87h0M185.28 175.87h0M188.92 175.87h0M192.55 175.87h0M196.19 175.87h0M199.82 175.87h0M203.46 175.87h0M207.09 175.87h0M210.73 175.87h0M214.36 175.87h0M218 175.87h0M221.63 175.87h0M225.26 175.87h0M228.9 175.87h0M232.53 175.87h0M236.17 175.87h0M239.8 175.87h0M243.44 175.87h0M247.07 175.87h0M250.71 175.87h0M254.34 175.87h0M257.98 175.87h0M261.61 175.87h0M265.25 175.87h0M268.88 175.87h0M272.52 175.87h0M276.15 175.87h0M279.79 175.87h0M283.42 175.87h0M287.05 175.87h0M290.69 175.87h0M294.32 175.87h0M297.96 175.87h0M301.59 175.87h0M305.23 175.87h0M308.86 175.87h0M312.5 175.87h0M316.13 175.87h0M319.77 175.87h0M323.4 175.87h0M327.04 175.87h0M330.67 175.87h0M334.31 175.87h0M337.94 175.87h0M341.58 175.87h0M345.21 175.87h0M348.84 175.87h0M352.48 175.87h0M356.11 175.87h0M359.75 175.87h0M363.38 175.87h0M367.02 175.87h0M370.65 175.87h0M374.29 175.87h0M377.92 175.87h0M381.56 175.87h0M385.19 175.87h0M388.83 175.87h0M392.46 175.87h0M396.1 175.87h0M399.73 175.87h0M403.37 175.87h0M407 175.87h0M410.63 175.87h0M414.27 175.87h0M417.9 175.87h0M421.54 175.87h0M425.17 175.87h0M428.81 175.87h0M432.44 175.87h0M436.08 175.87h0M439.71 175.87h0M443.35 175.87h0M446.98 175.87h0M450.62 175.87h0M454.25 175.87h0M457.89 175.87h0M461.52 175.87h0M465.15 175.87h0M468.79 175.87h0M472.42 175.87h0M476.06 175.87h0M479.69 175.87h0M483.33 175.87h0M486.96 175.87h0M490.6 175.87h0M494.23 175.87h0M497.87 175.87h0M501.5 175.87h0M505.14 175.87h0M508.77 175.87h0M512.41 175.87h0M516.04 175.87h0M519.68 175.87h0M523.31 175.87h0M526.94 175.87h0M530.58 175.87h0M534.21 175.87h0M537.85 175.87h0M541.48 175.87h0M545.12 175.87h0M548.75 175.87h0M552.39 175.87h0M556.02 175.87h0M559.66 175.87h0M563.29 175.87h0M566.93 175.87h0M570.56 175.87h0M574.2 175.87h0M577.83 175.87h0M581.47 175.87h0M585.1 175.87h0M588.73 175.87h0M592.37 175.87h0M596 175.87h0M599.64 175.87h0M603.27 175.87h0M606.91 175.87h0M610.54 175.87h0M614.18 175.87h0M617.81 175.87h0M621.45 175.87h0M625.08 175.87h0M628.72 175.87h0M632.35 175.87h0M635.99 175.87h0M639.62 175.87h0M643.26 175.87h0M646.89 175.87h0M650.52 175.87h0M654.16 175.87h0M657.79 175.87h0M661.43 175.87h0M665.06 175.87h0M668.7 175.87h0M672.33 175.87h0M675.97 175.87h0M679.6 175.87h0M683.24 175.87h0M34.44 179.5h0M38.08 179.5h0M41.71 179.5h0M45.35 179.5h0M48.98 179.5h0M52.62 179.5h0M56.25 179.5h0M59.89 179.5h0M63.52 179.5h0M67.16 179.5h0M70.79 179.5h0M74.42 179.5h0M78.06 179.5h0M81.69 179.5h0M85.33 179.5h0M88.96 179.5h0M92.6 179.5h0M96.23 179.5h0M99.87 179.5h0M103.5 179.5h0M107.14 179.5h0M110.77 179.5h0M114.41 179.5h0M118.04 179.5h0M121.68 179.5h0M125.31 179.5h0M128.95 179.5h0M132.58 179.5h0M136.21 179.5h0M139.85 179.5h0M143.48 179.5h0M147.12 179.5h0M150.75 179.5h0M154.39 179.5h0M158.02 179.5h0M161.66 179.5h0M165.29 179.5h0M168.93 179.5h0M172.56 179.5h0M176.2 179.5h0M179.83 179.5h0M183.47 179.5h0M187.1 179.5h0M190.74 179.5h0M194.37 179.5h0M198 179.5h0M201.64 179.5h0M205.27 179.5h0M208.91 179.5h0M212.54 179.5h0M216.18 179.5h0M219.81 179.5h0M223.45 179.5h0M227.08 179.5h0M230.72 179.5h0M234.35 179.5h0M237.99 179.5h0M241.62 179.5h0M245.26 179.5h0M248.89 179.5h0M252.53 179.5h0M256.16 179.5h0M259.79 179.5h0M263.43 179.5h0M267.06 179.5h0M270.7 179.5h0M274.33 179.5h0M277.97 179.5h0M281.6 179.5h0M285.24 179.5h0M288.87 179.5h0M292.51 179.5h0M296.14 179.5h0M299.78 179.5h0M303.41 179.5h0M307.05 179.5h0M310.68 179.5h0M314.32 179.5h0M317.95 179.5h0M321.58 179.5h0M325.22 179.5h0M328.85 179.5h0M332.49 179.5h0M336.12 179.5h0M339.76 179.5h0M343.39 179.5h0M347.03 179.5h0M350.66 179.5h0M354.3 179.5h0M357.93 179.5h0M361.57 179.5h0M365.2 179.5h0M368.84 179.5h0M372.47 179.5h0M376.11 179.5h0M379.74 179.5h0M383.37 179.5h0M387.01 179.5h0M390.64 179.5h0M394.28 179.5h0M397.91 179.5h0M401.55 179.5h0M405.18 179.5h0M408.82 179.5h0M412.45 179.5h0M416.09 179.5h0M419.72 179.5h0M423.36 179.5h0M426.99 179.5h0M430.63 179.5h0M434.26 179.5h0M437.89 179.5h0M441.53 179.5h0M445.16 179.5h0M448.8 179.5h0M452.43 179.5h0M456.07 179.5h0M459.7 179.5h0M463.34 179.5h0M466.97 179.5h0M470.61 179.5h0M474.24 179.5h0M477.88 179.5h0M481.51 179.5h0M485.15 179.5h0M488.78 179.5h0M492.42 179.5h0M496.05 179.5h0M499.68 179.5h0M503.32 179.5h0M506.95 179.5h0M510.59 179.5h0M514.22 179.5h0M517.86 179.5h0M521.49 179.5h0M525.13 179.5h0M528.76 179.5h0M532.4 179.5h0M536.03 179.5h0M539.67 179.5h0M543.3 179.5h0M546.94 179.5h0M550.57 179.5h0M554.21 179.5h0M557.84 179.5h0M561.47 179.5h0M565.11 179.5h0M568.74 179.5h0M572.38 179.5h0M576.01 179.5h0M579.65 179.5h0M583.28 179.5h0M586.92 179.5h0M590.55 179.5h0M594.19 179.5h0M597.82 179.5h0M601.46 179.5h0M605.09 179.5h0M608.73 179.5h0M612.36 179.5h0M616 179.5h0M619.63 179.5h0M623.26 179.5h0M626.9 179.5h0M630.53 179.5h0M634.17 179.5h0M637.8 179.5h0M641.44 179.5h0M645.07 179.5h0M648.71 179.5h0M652.34 179.5h0M655.98 179.5h0M659.61 179.5h0M663.25 179.5h0M666.88 179.5h0M670.52 179.5h0M674.15 179.5h0M677.79 179.5h0M681.42 179.5h0M32.63 183.14h0M36.26 183.14h0M39.9 183.14h0M43.53 183.14h0M47.16 183.14h0M50.8 183.14h0M54.43 183.14h0M58.07 183.14h0M61.7 183.14h0M65.34 183.14h0M68.97 183.14h0M72.61 183.14h0M76.24 183.14h0M79.88 183.14h0M83.51 183.14h0M87.15 183.14h0M90.78 183.14h0M94.42 183.14h0M98.05 183.14h0M101.68 183.14h0M105.32 183.14h0M108.95 183.14h0M112.59 183.14h0M116.22 183.14h0M119.86 183.14h0M123.49 183.14h0M127.13 183.14h0M130.76 183.14h0M134.4 183.14h0M138.03 183.14h0M141.67 183.14h0M145.3 183.14h0M148.94 183.14h0M152.57 183.14h0M156.21 183.14h0M159.84 183.14h0M163.47 183.14h0M167.11 183.14h0M170.74 183.14h0M174.38 183.14h0M178.01 183.14h0M181.65 183.14h0M185.28 183.14h0M188.92 183.14h0M192.55 183.14h0M196.19 183.14h0M199.82 183.14h0M203.46 183.14h0M207.09 183.14h0M210.73 183.14h0M214.36 183.14h0M218 183.14h0M221.63 183.14h0M225.26 183.14h0M228.9 183.14h0M232.53 183.14h0M236.17 183.14h0M239.8 183.14h0M243.44 183.14h0M247.07 183.14h0M250.71 183.14h0M254.34 183.14h0M257.98 183.14h0M261.61 183.14h0M265.25 183.14h0M268.88 183.14h0M272.52 183.14h0M276.15 183.14h0M279.79 183.14h0M283.42 183.14h0M287.05 183.14h0M290.69 183.14h0M294.32 183.14h0M297.96 183.14h0M301.59 183.14h0M305.23 183.14h0M308.86 183.14h0M312.5 183.14h0M316.13 183.14h0M319.77 183.14h0M323.4 183.14h0M327.04 183.14h0M330.67 183.14h0M334.31 183.14h0M337.94 183.14h0M341.58 183.14h0M345.21 183.14h0M348.84 183.14h0M352.48 183.14h0M356.11 183.14h0M359.75 183.14h0M363.38 183.14h0M367.02 183.14h0M370.65 183.14h0M374.29 183.14h0M377.92 183.14h0M381.56 183.14h0M385.19 183.14h0M388.83 183.14h0M392.46 183.14h0M396.1 183.14h0M399.73 183.14h0M403.37 183.14h0M407 183.14h0M410.63 183.14h0M414.27 183.14h0M417.9 183.14h0M421.54 183.14h0M425.17 183.14h0M428.81 183.14h0M432.44 183.14h0M436.08 183.14h0M439.71 183.14h0M443.35 183.14h0M446.98 183.14h0M450.62 183.14h0M454.25 183.14h0M457.89 183.14h0M461.52 183.14h0M465.15 183.14h0M468.79 183.14h0M472.42 183.14h0M476.06 183.14h0M479.69 183.14h0M483.33 183.14h0M486.96 183.14h0M490.6 183.14h0M494.23 183.14h0M497.87 183.14h0M501.5 183.14h0M505.14 183.14h0M508.77 183.14h0M512.41 183.14h0M516.04 183.14h0M519.68 183.14h0M523.31 183.14h0M526.94 183.14h0M530.58 183.14h0M534.21 183.14h0M537.85 183.14h0M541.48 183.14h0M545.12 183.14h0M548.75 183.14h0M552.39 183.14h0M556.02 183.14h0M559.66 183.14h0M563.29 183.14h0M566.93 183.14h0M570.56 183.14h0M574.2 183.14h0M577.83 183.14h0M581.47 183.14h0M585.1 183.14h0M588.73 183.14h0M592.37 183.14h0M596 183.14h0M599.64 183.14h0M603.27 183.14h0M606.91 183.14h0M610.54 183.14h0M614.18 183.14h0M617.81 183.14h0M621.45 183.14h0M625.08 183.14h0M628.72 183.14h0M632.35 183.14h0M635.99 183.14h0M639.62 183.14h0M643.26 183.14h0M646.89 183.14h0M650.52 183.14h0M654.16 183.14h0M657.79 183.14h0M661.43 183.14h0M665.06 183.14h0M668.7 183.14h0M672.33 183.14h0M675.97 183.14h0M679.6 183.14h0M683.24 183.14h0M34.44 186.77h0M38.08 186.77h0M41.71 186.77h0M45.35 186.77h0M48.98 186.77h0M52.62 186.77h0M56.25 186.77h0M59.89 186.77h0M63.52 186.77h0M67.16 186.77h0M70.79 186.77h0M74.42 186.77h0M78.06 186.77h0M81.69 186.77h0M85.33 186.77h0M88.96 186.77h0M92.6 186.77h0M96.23 186.77h0M99.87 186.77h0M103.5 186.77h0M107.14 186.77h0M110.77 186.77h0M114.41 186.77h0M118.04 186.77h0M121.68 186.77h0M125.31 186.77h0M128.95 186.77h0M132.58 186.77h0M136.21 186.77h0M139.85 186.77h0M143.48 186.77h0M147.12 186.77h0M150.75 186.77h0M154.39 186.77h0M158.02 186.77h0M161.66 186.77h0M165.29 186.77h0M168.93 186.77h0M172.56 186.77h0M176.2 186.77h0M179.83 186.77h0M183.47 186.77h0M187.1 186.77h0M190.74 186.77h0M194.37 186.77h0M198 186.77h0M201.64 186.77h0M205.27 186.77h0M208.91 186.77h0M212.54 186.77h0M216.18 186.77h0M219.81 186.77h0M223.45 186.77h0M227.08 186.77h0M230.72 186.77h0M234.35 186.77h0M237.99 186.77h0M241.62 186.77h0M245.26 186.77h0M248.89 186.77h0M252.53 186.77h0M256.16 186.77h0M259.79 186.77h0M263.43 186.77h0M267.06 186.77h0M270.7 186.77h0M274.33 186.77h0M277.97 186.77h0M281.6 186.77h0M285.24 186.77h0M288.87 186.77h0M292.51 186.77h0M296.14 186.77h0M299.78 186.77h0M303.41 186.77h0M307.05 186.77h0M310.68 186.77h0M314.32 186.77h0M317.95 186.77h0M321.58 186.77h0M325.22 186.77h0M328.85 186.77h0M332.49 186.77h0M336.12 186.77h0M339.76 186.77h0M343.39 186.77h0M347.03 186.77h0M350.66 186.77h0M354.3 186.77h0M357.93 186.77h0M361.57 186.77h0M365.2 186.77h0M368.84 186.77h0M372.47 186.77h0M376.11 186.77h0M379.74 186.77h0M383.37 186.77h0M387.01 186.77h0M390.64 186.77h0M394.28 186.77h0M397.91 186.77h0M401.55 186.77h0M405.18 186.77h0M408.82 186.77h0M412.45 186.77h0M416.09 186.77h0M419.72 186.77h0M423.36 186.77h0M426.99 186.77h0M430.63 186.77h0M434.26 186.77h0M437.89 186.77h0M441.53 186.77h0M445.16 186.77h0M448.8 186.77h0M452.43 186.77h0M456.07 186.77h0M459.7 186.77h0M463.34 186.77h0M466.97 186.77h0M470.61 186.77h0M474.24 186.77h0M477.88 186.77h0M481.51 186.77h0M485.15 186.77h0M488.78 186.77h0M492.42 186.77h0M496.05 186.77h0M499.68 186.77h0M503.32 186.77h0M506.95 186.77h0M510.59 186.77h0M514.22 186.77h0M517.86 186.77h0M521.49 186.77h0M525.13 186.77h0M528.76 186.77h0M532.4 186.77h0M536.03 186.77h0M539.67 186.77h0M543.3 186.77h0M546.94 186.77h0M550.57 186.77h0M554.21 186.77h0M557.84 186.77h0M561.47 186.77h0M565.11 186.77h0M568.74 186.77h0M572.38 186.77h0M576.01 186.77h0M579.65 186.77h0M583.28 186.77h0M586.92 186.77h0M590.55 186.77h0M594.19 186.77h0M597.82 186.77h0M601.46 186.77h0M605.09 186.77h0M608.73 186.77h0M612.36 186.77h0M616 186.77h0M619.63 186.77h0M623.26 186.77h0M626.9 186.77h0M630.53 186.77h0M634.17 186.77h0M637.8 186.77h0M641.44 186.77h0M645.07 186.77h0M648.71 186.77h0M652.34 186.77h0M655.98 186.77h0M659.61 186.77h0M663.25 186.77h0M666.88 186.77h0M670.52 186.77h0M674.15 186.77h0M677.79 186.77h0M681.42 186.77h0M32.63 190.4h0M36.26 190.4h0M39.9 190.4h0M43.53 190.4h0M47.16 190.4h0M50.8 190.4h0M54.43 190.4h0M58.07 190.4h0M61.7 190.4h0M65.34 190.4h0M68.97 190.4h0M72.61 190.4h0M76.24 190.4h0M79.88 190.4h0M83.51 190.4h0M87.15 190.4h0M90.78 190.4h0M94.42 190.4h0M98.05 190.4h0M101.68 190.4h0M105.32 190.4h0M108.95 190.4h0M112.59 190.4h0M116.22 190.4h0M119.86 190.4h0M123.49 190.4h0M127.13 190.4h0M130.76 190.4h0M134.4 190.4h0M138.03 190.4h0M141.67 190.4h0M145.3 190.4h0M148.94 190.4h0M152.57 190.4h0M156.21 190.4h0M159.84 190.4h0M163.47 190.4h0M167.11 190.4h0M170.74 190.4h0M174.38 190.4h0M178.01 190.4h0M181.65 190.4h0M185.28 190.4h0M188.92 190.4h0M192.55 190.4h0M196.19 190.4h0M199.82 190.4h0M203.46 190.4h0M207.09 190.4h0M210.73 190.4h0M214.36 190.4h0M218 190.4h0M221.63 190.4h0M225.26 190.4h0M228.9 190.4h0M232.53 190.4h0M236.17 190.4h0M239.8 190.4h0M243.44 190.4h0M247.07 190.4h0M250.71 190.4h0M254.34 190.4h0M257.98 190.4h0M261.61 190.4h0M265.25 190.4h0M268.88 190.4h0M272.52 190.4h0M276.15 190.4h0M279.79 190.4h0M283.42 190.4h0M287.05 190.4h0M290.69 190.4h0M294.32 190.4h0M297.96 190.4h0M301.59 190.4h0M305.23 190.4h0M308.86 190.4h0M312.5 190.4h0M316.13 190.4h0M319.77 190.4h0M323.4 190.4h0M327.04 190.4h0M330.67 190.4h0M334.31 190.4h0M337.94 190.4h0M341.58 190.4h0M345.21 190.4h0M348.84 190.4h0M352.48 190.4h0M356.11 190.4h0M359.75 190.4h0M363.38 190.4h0M367.02 190.4h0M370.65 190.4h0M374.29 190.4h0M377.92 190.4h0M381.56 190.4h0M385.19 190.4h0M388.83 190.4h0M392.46 190.4h0M396.1 190.4h0M399.73 190.4h0M403.37 190.4h0M407 190.4h0M410.63 190.4h0M414.27 190.4h0M417.9 190.4h0M421.54 190.4h0M425.17 190.4h0M428.81 190.4h0M432.44 190.4h0M436.08 190.4h0M439.71 190.4h0M443.35 190.4h0M446.98 190.4h0M450.62 190.4h0M454.25 190.4h0M457.89 190.4h0M461.52 190.4h0M465.15 190.4h0M468.79 190.4h0M472.42 190.4h0M476.06 190.4h0M479.69 190.4h0M483.33 190.4h0M486.96 190.4h0M490.6 190.4h0M494.23 190.4h0M497.87 190.4h0M501.5 190.4h0M505.14 190.4h0M508.77 190.4h0M512.41 190.4h0M516.04 190.4h0M519.68 190.4h0M523.31 190.4h0M526.94 190.4h0M530.58 190.4h0M534.21 190.4h0M537.85 190.4h0M541.48 190.4h0M545.12 190.4h0M548.75 190.4h0M552.39 190.4h0M556.02 190.4h0M559.66 190.4h0M563.29 190.4h0M566.93 190.4h0M570.56 190.4h0M574.2 190.4h0M577.83 190.4h0M581.47 190.4h0M585.1 190.4h0M588.73 190.4h0M592.37 190.4h0M596 190.4h0M599.64 190.4h0M603.27 190.4h0M606.91 190.4h0M610.54 190.4h0M614.18 190.4h0M617.81 190.4h0M621.45 190.4h0M625.08 190.4h0M628.72 190.4h0M632.35 190.4h0M635.99 190.4h0M639.62 190.4h0M643.26 190.4h0M646.89 190.4h0M650.52 190.4h0M654.16 190.4h0M657.79 190.4h0M661.43 190.4h0M665.06 190.4h0M668.7 190.4h0M672.33 190.4h0M675.97 190.4h0M679.6 190.4h0M683.24 190.4h0M34.44 194.04h0M38.08 194.04h0M41.71 194.04h0M45.35 194.04h0M48.98 194.04h0M52.62 194.04h0M56.25 194.04h0M59.89 194.04h0M63.52 194.04h0M67.16 194.04h0M70.79 194.04h0M74.42 194.04h0M78.06 194.04h0M81.69 194.04h0M85.33 194.04h0M88.96 194.04h0M92.6 194.04h0M96.23 194.04h0M99.87 194.04h0M103.5 194.04h0M107.14 194.04h0M110.77 194.04h0M114.41 194.04h0M118.04 194.04h0M121.68 194.04h0M125.31 194.04h0M128.95 194.04h0M132.58 194.04h0M136.21 194.04h0M139.85 194.04h0M143.48 194.04h0M147.12 194.04h0M150.75 194.04h0M154.39 194.04h0M158.02 194.04h0M161.66 194.04h0M165.29 194.04h0M168.93 194.04h0M172.56 194.04h0M176.2 194.04h0M179.83 194.04h0M183.47 194.04h0M187.1 194.04h0M190.74 194.04h0M194.37 194.04h0M198 194.04h0M201.64 194.04h0M205.27 194.04h0M208.91 194.04h0M212.54 194.04h0M216.18 194.04h0M219.81 194.04h0M223.45 194.04h0M227.08 194.04h0M230.72 194.04h0M234.35 194.04h0M237.99 194.04h0M241.62 194.04h0M245.26 194.04h0M248.89 194.04h0M252.53 194.04h0M256.16 194.04h0M259.79 194.04h0M263.43 194.04h0M267.06 194.04h0M270.7 194.04h0M274.33 194.04h0M277.97 194.04h0M281.6 194.04h0M285.24 194.04h0M288.87 194.04h0M292.51 194.04h0M296.14 194.04h0M299.78 194.04h0M303.41 194.04h0M307.05 194.04h0M310.68 194.04h0M314.32 194.04h0M317.95 194.04h0M321.58 194.04h0M325.22 194.04h0M328.85 194.04h0M332.49 194.04h0M336.12 194.04h0M339.76 194.04h0M343.39 194.04h0M347.03 194.04h0M350.66 194.04h0M354.3 194.04h0M357.93 194.04h0M361.57 194.04h0M365.2 194.04h0M368.84 194.04h0M372.47 194.04h0M376.11 194.04h0M379.74 194.04h0M383.37 194.04h0M387.01 194.04h0M390.64 194.04h0M394.28 194.04h0M397.91 194.04h0M401.55 194.04h0M405.18 194.04h0M408.82 194.04h0M412.45 194.04h0M416.09 194.04h0M419.72 194.04h0M423.36 194.04h0M426.99 194.04h0M430.63 194.04h0M434.26 194.04h0M437.89 194.04h0M441.53 194.04h0M445.16 194.04h0M448.8 194.04h0M452.43 194.04h0M456.07 194.04h0M459.7 194.04h0M463.34 194.04h0M466.97 194.04h0M470.61 194.04h0M474.24 194.04h0M477.88 194.04h0M481.51 194.04h0M485.15 194.04h0M488.78 194.04h0M492.42 194.04h0M496.05 194.04h0M499.68 194.04h0M503.32 194.04h0M506.95 194.04h0M510.59 194.04h0M514.22 194.04h0M517.86 194.04h0M521.49 194.04h0M525.13 194.04h0M528.76 194.04h0M532.4 194.04h0M536.03 194.04h0M539.67 194.04h0M543.3 194.04h0M546.94 194.04h0M550.57 194.04h0M554.21 194.04h0M557.84 194.04h0M561.47 194.04h0M565.11 194.04h0M568.74 194.04h0M572.38 194.04h0M576.01 194.04h0M579.65 194.04h0M583.28 194.04h0M586.92 194.04h0M590.55 194.04h0M594.19 194.04h0M597.82 194.04h0M601.46 194.04h0M605.09 194.04h0M608.73 194.04h0M612.36 194.04h0M616 194.04h0M619.63 194.04h0M623.26 194.04h0M626.9 194.04h0M630.53 194.04h0M634.17 194.04h0M637.8 194.04h0M641.44 194.04h0M645.07 194.04h0M648.71 194.04h0M652.34 194.04h0M655.98 194.04h0M659.61 194.04h0M663.25 194.04h0M666.88 194.04h0M670.52 194.04h0M674.15 194.04h0M677.79 194.04h0M681.42 194.04h0M32.63 197.67h0M36.26 197.67h0M39.9 197.67h0M43.53 197.67h0M47.16 197.67h0M50.8 197.67h0M54.43 197.67h0M58.07 197.67h0M61.7 197.67h0M65.34 197.67h0M68.97 197.67h0M72.61 197.67h0M76.24 197.67h0M79.88 197.67h0M83.51 197.67h0M87.15 197.67h0M90.78 197.67h0M94.42 197.67h0M98.05 197.67h0M101.68 197.67h0M105.32 197.67h0M108.95 197.67h0M112.59 197.67h0M116.22 197.67h0M119.86 197.67h0M123.49 197.67h0M127.13 197.67h0M130.76 197.67h0M134.4 197.67h0M138.03 197.67h0M141.67 197.67h0M145.3 197.67h0M148.94 197.67h0M152.57 197.67h0M156.21 197.67h0M159.84 197.67h0M163.47 197.67h0M167.11 197.67h0M170.74 197.67h0M174.38 197.67h0M178.01 197.67h0M181.65 197.67h0M185.28 197.67h0M188.92 197.67h0M192.55 197.67h0M196.19 197.67h0M199.82 197.67h0M203.46 197.67h0M207.09 197.67h0M210.73 197.67h0M214.36 197.67h0M218 197.67h0M221.63 197.67h0M225.26 197.67h0M228.9 197.67h0M232.53 197.67h0M236.17 197.67h0M239.8 197.67h0M243.44 197.67h0M247.07 197.67h0M250.71 197.67h0M254.34 197.67h0M257.98 197.67h0M261.61 197.67h0M265.25 197.67h0M268.88 197.67h0M272.52 197.67h0M276.15 197.67h0M279.79 197.67h0M283.42 197.67h0M287.05 197.67h0M290.69 197.67h0M294.32 197.67h0M297.96 197.67h0M301.59 197.67h0M305.23 197.67h0M308.86 197.67h0M312.5 197.67h0M316.13 197.67h0M319.77 197.67h0M323.4 197.67h0M327.04 197.67h0M330.67 197.67h0M334.31 197.67h0M337.94 197.67h0M341.58 197.67h0M345.21 197.67h0M348.84 197.67h0M352.48 197.67h0M356.11 197.67h0M359.75 197.67h0M363.38 197.67h0M367.02 197.67h0M370.65 197.67h0M374.29 197.67h0M377.92 197.67h0M381.56 197.67h0M385.19 197.67h0M388.83 197.67h0M392.46 197.67h0M396.1 197.67h0M399.73 197.67h0M403.37 197.67h0M407 197.67h0M410.63 197.67h0M414.27 197.67h0M417.9 197.67h0M421.54 197.67h0M425.17 197.67h0M428.81 197.67h0M432.44 197.67h0M436.08 197.67h0M439.71 197.67h0M443.35 197.67h0M446.98 197.67h0M450.62 197.67h0M454.25 197.67h0M457.89 197.67h0M461.52 197.67h0M465.15 197.67h0M468.79 197.67h0M472.42 197.67h0M476.06 197.67h0M479.69 197.67h0M483.33 197.67h0M486.96 197.67h0M490.6 197.67h0M494.23 197.67h0M497.87 197.67h0M501.5 197.67h0M505.14 197.67h0M508.77 197.67h0M512.41 197.67h0M516.04 197.67h0M519.68 197.67h0M523.31 197.67h0M526.94 197.67h0M530.58 197.67h0M534.21 197.67h0M537.85 197.67h0M541.48 197.67h0M545.12 197.67h0M548.75 197.67h0M552.39 197.67h0M556.02 197.67h0M559.66 197.67h0M563.29 197.67h0M566.93 197.67h0M570.56 197.67h0M574.2 197.67h0M577.83 197.67h0M581.47 197.67h0M585.1 197.67h0M588.73 197.67h0M592.37 197.67h0M596 197.67h0M599.64 197.67h0M603.27 197.67h0M606.91 197.67h0M610.54 197.67h0M614.18 197.67h0M617.81 197.67h0M621.45 197.67h0M625.08 197.67h0M628.72 197.67h0M632.35 197.67h0M635.99 197.67h0M639.62 197.67h0M643.26 197.67h0M646.89 197.67h0M650.52 197.67h0M654.16 197.67h0M657.79 197.67h0M661.43 197.67h0M665.06 197.67h0M668.7 197.67h0M672.33 197.67h0M675.97 197.67h0M679.6 197.67h0M683.24 197.67h0"/><line x1="33.6" x2="683.5" y1="115.28" y2="115.28" stroke="#3f82c4" stroke-width="1.1" stroke-dasharray="3.95 1.9"/><line x1="33.6" x2="683.5" y1="122.7" y2="122.7" stroke="#3f82c4" stroke-width="0.9" stroke-dasharray="0.9 1.5"/><line x1="33.6" x2="683.5" y1="197.01" y2="197.01" stroke="#3f82c4" stroke-width="0.9" stroke-dasharray="0.9 1.5"/><rect x="45.88" y="63.27" width="30.91" height="182.03" fill="#3e7eba"/><rect x="85.51" y="136.82" width="30.91" height="108.48" fill="#3e7eba"/><rect x="125.14" y="108.96" width="30.91" height="136.34" fill="#3e7eba"/><rect x="164.77" y="121.22" width="30.91" height="124.08" fill="#3e7eba"/><rect x="204.4" y="128.28" width="30.91" height="117.02" fill="#3e7eba"/><rect x="244.02" y="92.24" width="30.91" height="153.06" fill="#3e7eba"/><rect x="283.65" y="114.16" width="30.91" height="131.14" fill="#3e7eba"/><rect x="323.28" y="136.08" width="30.91" height="109.22" fill="#3e7eba"/><rect x="362.91" y="97.07" width="30.91" height="148.23" fill="#3e7eba"/><rect x="402.54" y="124.56" width="30.91" height="120.74" fill="#3e7eba"/><rect x="442.17" y="177.69" width="30.91" height="67.61" fill="#3e7eba"/><rect x="481.79" y="163.2" width="30.91" height="82.1" fill="#3e7eba"/><rect x="521.42" y="213.35" width="30.91" height="31.95" fill="#3e7eba"/><rect x="561.05" y="179.17" width="30.91" height="66.13" fill="#3e7eba"/><rect x="600.68" y="200.72" width="30.91" height="44.58" fill="#3e7eba"/><rect x="640.31" y="226.35" width="30.91" height="18.95" fill="#3e7eba"/><line x1="33.6" x2="683.5" y1="226.73" y2="226.73" stroke="#b0b0b0" stroke-opacity="0.6" stroke-width="0.8" stroke-dasharray="1 2"/><line x1="33.6" x2="683.5" y1="189.58" y2="189.58" stroke="#b0b0b0" stroke-opacity="0.6" stroke-width="0.8" stroke-dasharray="1 2"/><line x1="33.6" x2="683.5" y1="152.43" y2="152.43" stroke="#b0b0b0" stroke-opacity="0.6" stroke-width="0.8" stroke-dasharray="1 2"/><line x1="33.6" x2="683.5" y1="115.28" y2="115.28" stroke="#b0b0b0" stroke-opacity="0.6" stroke-width="0.8" stroke-dasharray="1 2"/><line x1="33.6" x2="683.5" y1="78.12" y2="78.12" stroke="#b0b0b0" stroke-opacity="0.6" stroke-width="0.8" stroke-dasharray="1 2"/><line x1="33.6" x2="683.5" y1="40.97" y2="40.97" stroke="#b0b0b0" stroke-opacity="0.6" stroke-width="0.8" stroke-dasharray="1 2"/><rect x="47.84" y="49.47" width="27" height="9.8" rx="1.5" fill="#fff" fill-opacity="0.85"/><text x="61.34" y="57.37" text-anchor="middle" textLength="23.13" lengthAdjust="spacingAndGlyphs" style="font-family:'Liberation Sans',sans-serif;font-size:8.54px" fill="#222222" stroke="#222222" stroke-width="0.1">11.40</text><rect x="89.77" y="123.02" width="22.4" height="9.8" rx="1.5" fill="#fff" fill-opacity="0.85"/><text x="100.97" y="130.92" text-anchor="middle" textLength="17.99" lengthAdjust="spacingAndGlyphs" style="font-family:'Liberation Sans',sans-serif;font-size:8.54px" fill="#222222" stroke="#222222" stroke-width="0.1">9.42</text><rect x="127.1" y="95.16" width="27" height="9.8" rx="1.5" fill="#fff" fill-opacity="0.85"/><text x="140.6" y="103.06" text-anchor="middle" textLength="23.13" lengthAdjust="spacingAndGlyphs" style="font-family:'Liberation Sans',sans-serif;font-size:8.54px" fill="#222222" stroke="#222222" stroke-width="0.1">10.17</text><rect x="169.02" y="107.42" width="22.4" height="9.8" rx="1.5" fill="#fff" fill-opacity="0.85"/><text x="180.22" y="115.32" text-anchor="middle" textLength="17.99" lengthAdjust="spacingAndGlyphs" style="font-family:'Liberation Sans',sans-serif;font-size:8.54px" fill="#222222" stroke="#222222" stroke-width="0.1">9.84</text><rect x="208.65" y="114.48" width="22.4" height="9.8" rx="1.5" fill="#fff" fill-opacity="0.85"/><text x="219.85" y="122.38" text-anchor="middle" textLength="17.99" lengthAdjust="spacingAndGlyphs" style="font-family:'Liberation Sans',sans-serif;font-size:8.54px" fill="#222222" stroke="#222222" stroke-width="0.1">9.65</text><rect x="245.98" y="78.44" width="27" height="9.8" rx="1.5" fill="#fff" fill-opacity="0.85"/><text x="259.48" y="86.34" text-anchor="middle" textLength="23.13" lengthAdjust="spacingAndGlyphs" style="font-family:'Liberation Sans',sans-serif;font-size:8.54px" fill="#222222" stroke="#222222" stroke-width="0.1">10.62</text><rect x="285.61" y="100.36" width="27" height="9.8" rx="1.5" fill="#fff" fill-opacity="0.85"/><text x="299.11" y="108.26" text-anchor="middle" textLength="23.13" lengthAdjust="spacingAndGlyphs" style="font-family:'Liberation Sans',sans-serif;font-size:8.54px" fill="#222222" stroke="#222222" stroke-width="0.1">10.03</text><rect x="327.54" y="122.28" width="22.4" height="9.8" rx="1.5" fill="#fff" fill-opacity="0.85"/><text x="338.74" y="130.18" text-anchor="middle" textLength="17.99" lengthAdjust="spacingAndGlyphs" style="font-family:'Liberation Sans',sans-serif;font-size:8.54px" fill="#222222" stroke="#222222" stroke-width="0.1">9.44</text><rect x="364.86" y="83.27" width="27" height="9.8" rx="1.5" fill="#fff" fill-opacity="0.85"/><text x="378.36" y="91.17" text-anchor="middle" textLength="23.13" lengthAdjust="spacingAndGlyphs" style="font-family:'Liberation Sans',sans-serif;font-size:8.54px" fill="#222222" stroke="#222222" stroke-width="0.1">10.49</text><rect x="406.79" y="110.76" width="22.4" height="9.8" rx="1.5" fill="#fff" fill-opacity="0.85"/><text x="417.99" y="118.66" text-anchor="middle" textLength="17.99" lengthAdjust="spacingAndGlyphs" style="font-family:'Liberation Sans',sans-serif;font-size:8.54px" fill="#222222" stroke="#222222" stroke-width="0.1">9.75</text><rect x="446.42" y="163.89" width="22.4" height="9.8" rx="1.5" fill="#fff" fill-opacity="0.85"/><text x="457.62" y="171.79" text-anchor="middle" textLength="17.99" lengthAdjust="spacingAndGlyphs" style="font-family:'Liberation Sans',sans-serif;font-size:8.54px" fill="#222222" stroke="#222222" stroke-width="0.1">8.32</text><rect x="486.05" y="149.4" width="22.4" height="9.8" rx="1.5" fill="#fff" fill-opacity="0.85"/><text x="497.25" y="157.3" text-anchor="middle" textLength="17.99" lengthAdjust="spacingAndGlyphs" style="font-family:'Liberation Sans',sans-serif;font-size:8.54px" fill="#222222" stroke="#222222" stroke-width="0.1">8.71</text><rect x="525.68" y="199.55" width="22.4" height="9.8" rx="1.5" fill="#fff" fill-opacity="0.85"/><text x="536.88" y="207.45" text-anchor="middle" textLength="17.99" lengthAdjust="spacingAndGlyphs" style="font-family:'Liberation Sans',sans-serif;font-size:8.54px" fill="#222222" stroke="#222222" stroke-width="0.1">7.36</text><rect x="565.3" y="165.37" width="22.4" height="9.8" rx="1.5" fill="#fff" fill-opacity="0.85"/><text x="576.5" y="173.27" text-anchor="middle" textLength="17.99" lengthAdjust="spacingAndGlyphs" style="font-family:'Liberation Sans',sans-serif;font-size:8.54px" fill="#222222" stroke="#222222" stroke-width="0.1">8.28</text><rect x="604.93" y="186.92" width="22.4" height="9.8" rx="1.5" fill="#fff" fill-opacity="0.85"/><text x="616.13" y="194.82" text-anchor="middle" textLength="17.99" lengthAdjust="spacingAndGlyphs" style="font-family:'Liberation Sans',sans-serif;font-size:8.54px" fill="#222222" stroke="#222222" stroke-width="0.1">7.70</text><rect x="644.56" y="212.55" width="22.4" height="9.8" rx="1.5" fill="#fff" fill-opacity="0.85"/><text x="655.76" y="220.45" text-anchor="middle" textLength="17.99" lengthAdjust="spacingAndGlyphs" style="font-family:'Liberation Sans',sans-serif;font-size:8.54px" fill="#222222" stroke="#222222" stroke-width="0.1">7.01</text><path d="M33.1 22.4H683.5V245.3H33.1" fill="none" stroke="#333333" stroke-width="0.9"/><line x1="33.45" x2="33.45" y1="21.95" y2="245.75" stroke="#7a7a7a" stroke-width="1.3"/><line x1="30.3" x2="33.6" y1="226.73" y2="226.73" stroke="#333333" stroke-width="0.9"/><text x="27.7" y="230.58" text-anchor="end" style="font-family:'Liberation Sans',sans-serif;font-size:10.00px" fill="#222222" stroke="#222222" stroke-width="0.1">7</text><line x1="30.3" x2="33.6" y1="189.58" y2="189.58" stroke="#333333" stroke-width="0.9"/><text x="27.7" y="193.43" text-anchor="end" style="font-family:'Liberation Sans',sans-serif;font-size:10.00px" fill="#222222" stroke="#222222" stroke-width="0.1">8</text><line x1="30.3" x2="33.6" y1="152.43" y2="152.43" stroke="#333333" stroke-width="0.9"/><text x="27.7" y="156.28" text-anchor="end" style="font-family:'Liberation Sans',sans-serif;font-size:10.00px" fill="#222222" stroke="#222222" stroke-width="0.1">9</text><line x1="30.3" x2="33.6" y1="115.28" y2="115.28" stroke="#333333" stroke-width="0.9"/><text x="27.7" y="119.12" text-anchor="end" style="font-family:'Liberation Sans',sans-serif;font-size:10.00px" fill="#222222" stroke="#222222" stroke-width="0.1">10</text><line x1="30.3" x2="33.6" y1="78.12" y2="78.12" stroke="#333333" stroke-width="0.9"/><text x="27.7" y="81.97" text-anchor="end" style="font-family:'Liberation Sans',sans-serif;font-size:10.00px" fill="#222222" stroke="#222222" stroke-width="0.1">11</text><line x1="30.3" x2="33.6" y1="40.97" y2="40.97" stroke="#333333" stroke-width="0.9"/><text x="27.7" y="44.82" text-anchor="end" style="font-family:'Liberation Sans',sans-serif;font-size:10.00px" fill="#222222" stroke="#222222" stroke-width="0.1">12</text><line x1="61.34" x2="61.34" y1="245.3" y2="248.6" stroke="#333333" stroke-width="0.9"/><text x="61.34" y="259" text-anchor="middle" style="font-family:'Liberation Sans',sans-serif;font-size:10.00px" fill="#222222" stroke="#222222" stroke-width="0.1">1</text><line x1="100.97" x2="100.97" y1="245.3" y2="248.6" stroke="#333333" stroke-width="0.9"/><text x="100.97" y="259" text-anchor="middle" style="font-family:'Liberation Sans',sans-serif;font-size:10.00px" fill="#222222" stroke="#222222" stroke-width="0.1">2</text><line x1="140.6" x2="140.6" y1="245.3" y2="248.6" stroke="#333333" stroke-width="0.9"/><text x="140.6" y="259" text-anchor="middle" style="font-family:'Liberation Sans',sans-serif;font-size:10.00px" fill="#222222" stroke="#222222" stroke-width="0.1">3</text><line x1="180.22" x2="180.22" y1="245.3" y2="248.6" stroke="#333333" stroke-width="0.9"/><text x="180.22" y="259" text-anchor="middle" style="font-family:'Liberation Sans',sans-serif;font-size:10.00px" fill="#222222" stroke="#222222" stroke-width="0.1">4</text><line x1="219.85" x2="219.85" y1="245.3" y2="248.6" stroke="#333333" stroke-width="0.9"/><text x="219.85" y="259" text-anchor="middle" style="font-family:'Liberation Sans',sans-serif;font-size:10.00px" fill="#222222" stroke="#222222" stroke-width="0.1">5</text><line x1="259.48" x2="259.48" y1="245.3" y2="248.6" stroke="#333333" stroke-width="0.9"/><text x="259.48" y="259" text-anchor="middle" style="font-family:'Liberation Sans',sans-serif;font-size:10.00px" fill="#222222" stroke="#222222" stroke-width="0.1">6</text><line x1="299.11" x2="299.11" y1="245.3" y2="248.6" stroke="#333333" stroke-width="0.9"/><text x="299.11" y="259" text-anchor="middle" style="font-family:'Liberation Sans',sans-serif;font-size:10.00px" fill="#222222" stroke="#222222" stroke-width="0.1">7</text><line x1="338.74" x2="338.74" y1="245.3" y2="248.6" stroke="#333333" stroke-width="0.9"/><text x="338.74" y="259" text-anchor="middle" style="font-family:'Liberation Sans',sans-serif;font-size:10.00px" fill="#222222" stroke="#222222" stroke-width="0.1">8</text><line x1="378.36" x2="378.36" y1="245.3" y2="248.6" stroke="#333333" stroke-width="0.9"/><text x="378.36" y="259" text-anchor="middle" style="font-family:'Liberation Sans',sans-serif;font-size:10.00px" fill="#222222" stroke="#222222" stroke-width="0.1">9</text><line x1="417.99" x2="417.99" y1="245.3" y2="248.6" stroke="#333333" stroke-width="0.9"/><text x="417.99" y="259" text-anchor="middle" style="font-family:'Liberation Sans',sans-serif;font-size:10.00px" fill="#222222" stroke="#222222" stroke-width="0.1">10</text><line x1="457.62" x2="457.62" y1="245.3" y2="248.6" stroke="#333333" stroke-width="0.9"/><text x="457.62" y="259" text-anchor="middle" style="font-family:'Liberation Sans',sans-serif;font-size:10.00px" fill="#222222" stroke="#222222" stroke-width="0.1">11</text><line x1="497.25" x2="497.25" y1="245.3" y2="248.6" stroke="#333333" stroke-width="0.9"/><text x="497.25" y="259" text-anchor="middle" style="font-family:'Liberation Sans',sans-serif;font-size:10.00px" fill="#222222" stroke="#222222" stroke-width="0.1">12</text><line x1="536.88" x2="536.88" y1="245.3" y2="248.6" stroke="#333333" stroke-width="0.9"/><text x="536.88" y="259" text-anchor="middle" style="font-family:'Liberation Sans',sans-serif;font-size:10.00px" fill="#222222" stroke="#222222" stroke-width="0.1">13</text><line x1="576.5" x2="576.5" y1="245.3" y2="248.6" stroke="#333333" stroke-width="0.9"/><text x="576.5" y="259" text-anchor="middle" style="font-family:'Liberation Sans',sans-serif;font-size:10.00px" fill="#222222" stroke="#222222" stroke-width="0.1">14</text><line x1="616.13" x2="616.13" y1="245.3" y2="248.6" stroke="#333333" stroke-width="0.9"/><text x="616.13" y="259" text-anchor="middle" style="font-family:'Liberation Sans',sans-serif;font-size:10.00px" fill="#222222" stroke="#222222" stroke-width="0.1">15</text><line x1="655.76" x2="655.76" y1="245.3" y2="248.6" stroke="#333333" stroke-width="0.9"/><text x="655.76" y="259" text-anchor="middle" style="font-family:'Liberation Sans',sans-serif;font-size:10.00px" fill="#222222" stroke="#222222" stroke-width="0.1">16</text><text x="358.7" y="273.2" text-anchor="middle" textLength="94.85" lengthAdjust="spacingAndGlyphs" style="font-family:'Liberation Sans',sans-serif;font-size:12.58px" fill="#222222" stroke="#222222" stroke-width="0.1">Sample number</text><text x="0" y="0" text-anchor="middle" textLength="217.34" lengthAdjust="spacingAndGlyphs" style="font-family:'Liberation Sans',sans-serif;font-size:12.42px" fill="#222222" stroke="#222222" stroke-width="0.1" transform="translate(9.2 134) rotate(-90)">Final mass loss during degassing (%)</text><text x="200.04" y="288.8" text-anchor="middle" textLength="81.03" lengthAdjust="spacingAndGlyphs" style="font-family:'Liberation Sans',sans-serif;font-size:10.55px" fill="#222222" stroke="#222222" stroke-width="0.1">Tomb door (1–8)</text><text x="457.62" y="288.8" text-anchor="middle" textLength="110.74" lengthAdjust="spacingAndGlyphs" style="font-family:'Liberation Sans',sans-serif;font-size:10.55px" fill="#222222" stroke="#222222" stroke-width="0.1">Coffin supports (9–13)</text><text x="616.13" y="288.8" text-anchor="middle" textLength="116.71" lengthAdjust="spacingAndGlyphs" style="font-family:'Liberation Sans',sans-serif;font-size:10.55px" fill="#222222" stroke="#222222" stroke-width="0.1">Inner elements (14–16)</text><rect x="42" y="1.2" width="18.4" height="6.4" fill="#ebf1f5"/><rect x="170.3" y="1.2" width="18.4" height="6.4" fill="#ffffff"/><rect x="315.3" y="1.2" width="18.7" height="6.4" fill="#edf2f7"/><g stroke="#1a1a1a" stroke-width="1.1" fill="none"><path clip-path="url(#cl1)" d="M19.15 9.6L29.55 -0.8M26.42 9.6L36.82 -0.8M33.69 9.6L44.09 -0.8M40.96 9.6L51.36 -0.8M48.23 9.6L58.63 -0.8M55.5 9.6L65.9 -0.8M62.77 9.6L73.17 -0.8"/><path clip-path="url(#cl3)" d="M291.47 9.6L301.87 -0.8M302.38 9.6L312.78 -0.8M313.28 9.6L323.68 -0.8M324.18 9.6L334.58 -0.8M335.09 9.6L345.49 -0.8"/><path clip-path="url(#cl3)" d="M286.74 -0.8L297.14 9.6M297.64 -0.8L308.04 9.6M308.54 -0.8L318.94 9.6M319.45 -0.8L329.85 9.6M330.35 -0.8L340.75 9.6M341.26 -0.8L351.66 9.6"/></g><path clip-path="url(#cl2)" stroke="#1a1a1a" stroke-width="1.84" stroke-linecap="round" d="M170.74 1.4h0M174.38 1.4h0M178.01 1.4h0M181.65 1.4h0M185.28 1.4h0M188.92 1.4h0M172.56 5.03h0M176.2 5.03h0M179.83 5.03h0M183.47 5.03h0M187.1 5.03h0"/><text x="67.35" y="7.6" text-anchor="start" textLength="84.99" lengthAdjust="spacingAndGlyphs" style="font-family:'Liberation Sans',sans-serif;font-size:9.62px" fill="#222222" stroke="#222222" stroke-width="0.1">Category I (&gt;10%)</text><text x="195.35" y="7.6" text-anchor="start" textLength="101.96" lengthAdjust="spacingAndGlyphs" style="font-family:'Liberation Sans',sans-serif;font-size:9.62px" fill="#222222" stroke="#222222" stroke-width="0.1">Category II (7.8–9.8%)</text><text x="341.05" y="7.6" text-anchor="start" textLength="93.25" lengthAdjust="spacingAndGlyphs" style="font-family:'Liberation Sans',sans-serif;font-size:9.62px" fill="#222222" stroke="#222222" stroke-width="0.1">Category III (&lt;7.8%)</text></svg></body></html>
